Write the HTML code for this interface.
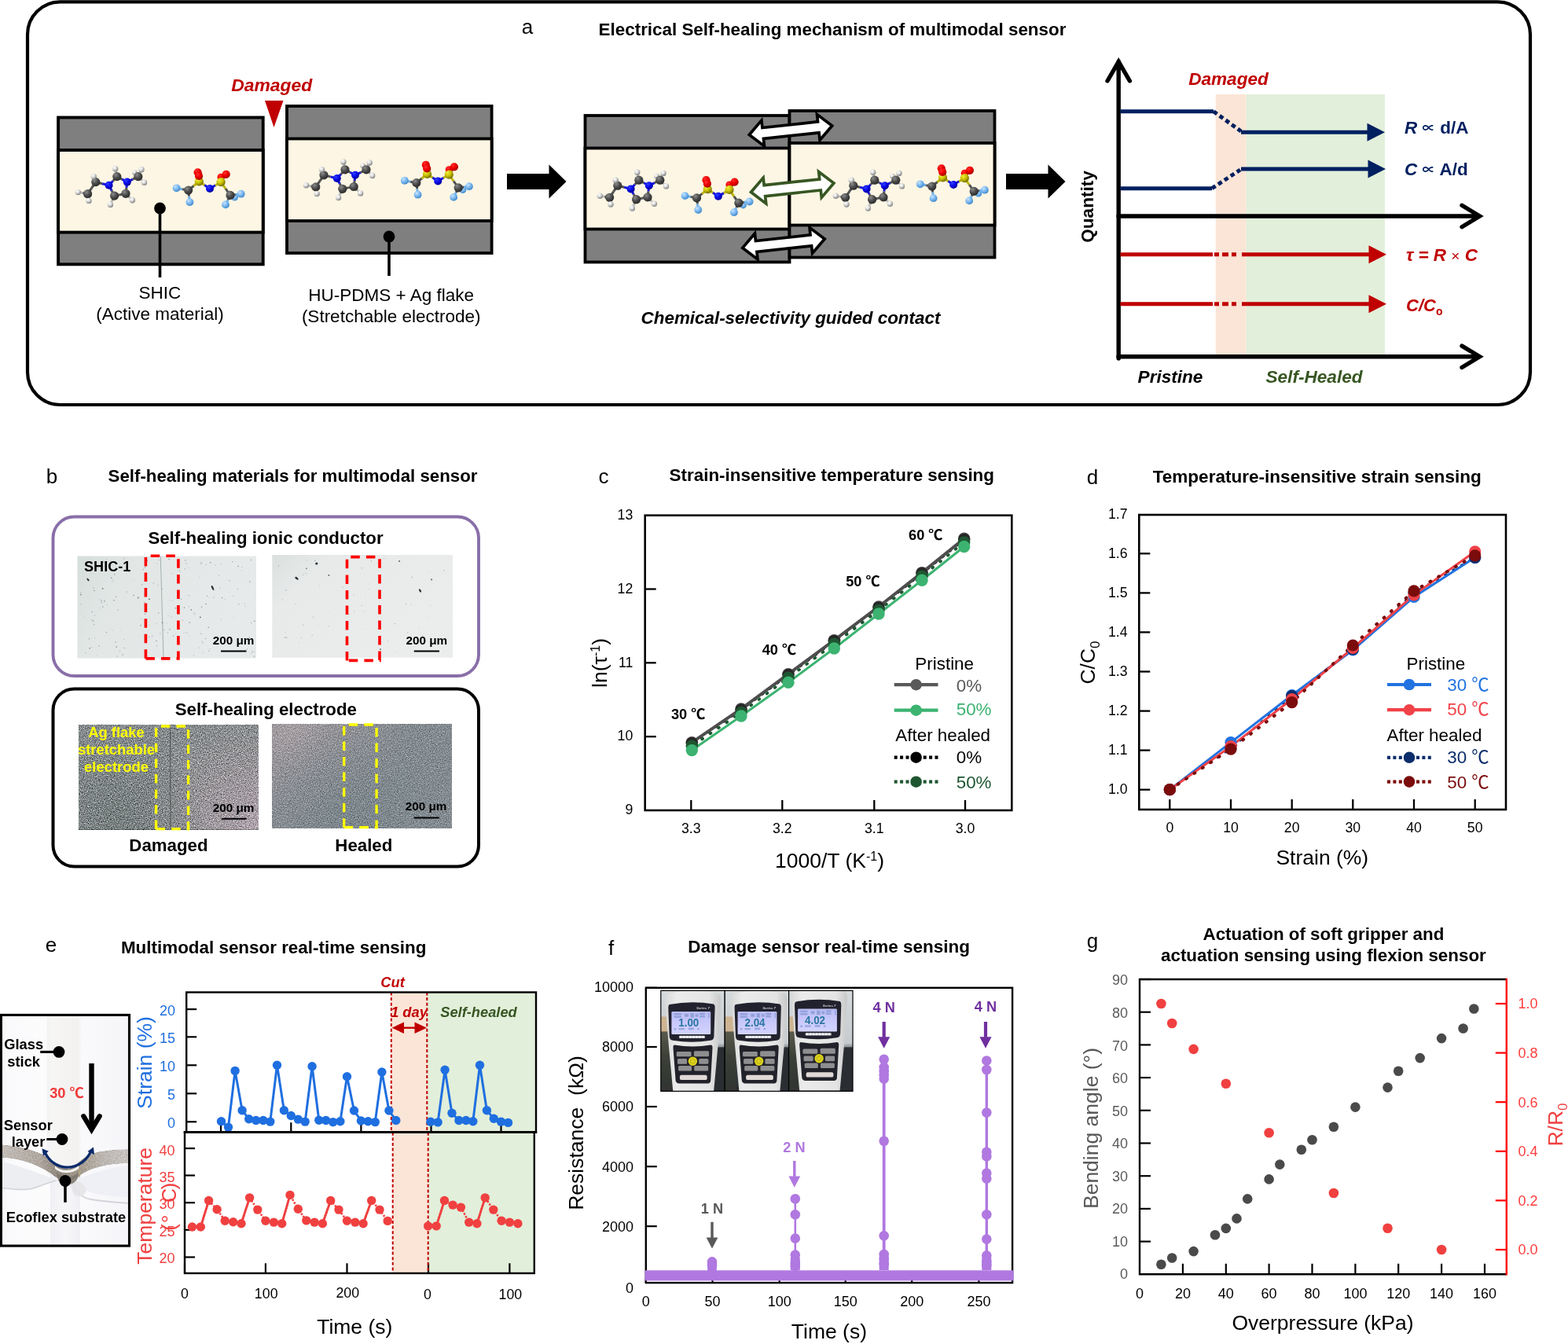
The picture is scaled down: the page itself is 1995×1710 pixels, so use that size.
<!DOCTYPE html>
<html lang="en"><head><meta charset="utf-8"><title>Self-healing multimodal sensor</title>
<style>
html,body{margin:0;padding:0;background:#fff}
svg{display:block}
svg text{font-family:"Liberation Sans", "Noto Sans CJK SC", sans-serif}
</style></head>
<body>
<svg width="1995" height="1710" viewBox="0 0 1995 1710">
<defs>
<radialGradient id="gH" cx="35%" cy="30%" r="75%"><stop offset="0" stop-color="#ffffff"/><stop offset="0.4" stop-color="#e0e0e0"/><stop offset="1" stop-color="#7a7a7a"/></radialGradient>
<radialGradient id="gC" cx="35%" cy="30%" r="75%"><stop offset="0" stop-color="#8c8c8c"/><stop offset="0.5" stop-color="#4d4d4d"/><stop offset="1" stop-color="#262626"/></radialGradient>
<radialGradient id="gN" cx="35%" cy="30%" r="75%"><stop offset="0" stop-color="#3040ff"/><stop offset="0.5" stop-color="#0808e8"/><stop offset="1" stop-color="#000090"/></radialGradient>
<radialGradient id="gO" cx="35%" cy="30%" r="75%"><stop offset="0" stop-color="#ff3030"/><stop offset="0.5" stop-color="#ee0000"/><stop offset="1" stop-color="#a00000"/></radialGradient>
<radialGradient id="gS" cx="35%" cy="30%" r="75%"><stop offset="0" stop-color="#f0f040"/><stop offset="0.5" stop-color="#c8c000"/><stop offset="1" stop-color="#6a6400"/></radialGradient>
<radialGradient id="gF" cx="35%" cy="30%" r="75%"><stop offset="0" stop-color="#c8e4ff"/><stop offset="0.5" stop-color="#7ab8f0"/><stop offset="1" stop-color="#3f86c8"/></radialGradient>

<linearGradient id="bI1" x1="0" y1="0" x2="1" y2="0.3"><stop offset="0" stop-color="#d5dedb"/><stop offset="0.3" stop-color="#e2e7e6"/><stop offset="1" stop-color="#e7eaea"/></linearGradient>
<linearGradient id="bI2" x1="0" y1="0" x2="1" y2="0.6"><stop offset="0" stop-color="#dae0de"/><stop offset="0.25" stop-color="#e8eaea"/><stop offset="1" stop-color="#ebecec"/></linearGradient>
<radialGradient id="bE1a" gradientUnits="userSpaceOnUse" cx="320" cy="1050" r="150"><stop offset="0" stop-color="#b0a4ac" stop-opacity="0.95"/><stop offset="0.5" stop-color="#a39aa0" stop-opacity="0.6"/><stop offset="1" stop-color="#a39aa0" stop-opacity="0"/></radialGradient>
<radialGradient id="bE1b" gradientUnits="userSpaceOnUse" cx="150" cy="1040" r="110"><stop offset="0" stop-color="#747c7c" stop-opacity="0.8"/><stop offset="1" stop-color="#747c7c" stop-opacity="0"/></radialGradient>
<radialGradient id="bE2a" gradientUnits="userSpaceOnUse" cx="370" cy="930" r="150"><stop offset="0" stop-color="#a8a0a4" stop-opacity="0.95"/><stop offset="0.5" stop-color="#9c969b" stop-opacity="0.6"/><stop offset="1" stop-color="#9c969b" stop-opacity="0"/></radialGradient>
<radialGradient id="bE2b" gradientUnits="userSpaceOnUse" cx="440" cy="1030" r="120"><stop offset="0" stop-color="#78848a" stop-opacity="0.8"/><stop offset="1" stop-color="#78848a" stop-opacity="0"/></radialGradient>
<filter id="speck1" x="0" y="0" width="100%" height="100%" color-interpolation-filters="sRGB">
<feTurbulence type="fractalNoise" baseFrequency="0.8" numOctaves="2" seed="4" result="n"/>
<feColorMatrix in="n" type="matrix" values="0.5 0.5 0.5 0 -0.25  0.5 0.5 0.5 0 -0.25  0.5 0.5 0.5 0 -0.25  0 0 0 0 1" result="g"/>
<feComposite in="SourceGraphic" in2="g" operator="arithmetic" k1="0" k2="1" k3="1.1" k4="-0.55"/>
</filter>
<filter id="speck2" x="0" y="0" width="100%" height="100%" color-interpolation-filters="sRGB">
<feTurbulence type="fractalNoise" baseFrequency="0.8" numOctaves="2" seed="9" result="n"/>
<feColorMatrix in="n" type="matrix" values="0.5 0.5 0.5 0 -0.25  0.5 0.5 0.5 0 -0.25  0.5 0.5 0.5 0 -0.25  0 0 0 0 1" result="g"/>
<feComposite in="SourceGraphic" in2="g" operator="arithmetic" k1="0" k2="1" k3="0.7" k4="-0.35"/>
</filter>

<clipPath id="eclip"><rect x="0" y="1290" width="166" height="297"/></clipPath>
<linearGradient id="ebg" x1="0" y1="0" x2="1" y2="0"><stop offset="0" stop-color="#f9f9fb"/><stop offset="0.35" stop-color="#fcfcfd"/><stop offset="0.7" stop-color="#f9f9fb"/><stop offset="1" stop-color="#f5f5f9"/></linearGradient>
<linearGradient id="estick" x1="0" y1="0" x2="1" y2="0"><stop offset="0" stop-color="#f2f2f3"/><stop offset="0.15" stop-color="#f6f6f5"/><stop offset="0.5" stop-color="#f4f3f1"/><stop offset="0.9" stop-color="#f2f1ef"/><stop offset="1" stop-color="#f9f9fb"/></linearGradient>
<linearGradient id="estick2" x1="0" y1="0" x2="1" y2="0"><stop offset="0" stop-color="#f0f0f4"/><stop offset="0.5" stop-color="#f7f7fa"/><stop offset="1" stop-color="#f0f0f4"/></linearGradient>
<linearGradient id="eband" x1="0" y1="0" x2="1" y2="0"><stop offset="0" stop-color="#c4bdb8"/><stop offset="0.3" stop-color="#b0a8a0"/><stop offset="0.45" stop-color="#8f877d"/><stop offset="0.6" stop-color="#a39a8c"/><stop offset="0.8" stop-color="#bdb7b2"/><stop offset="1" stop-color="#c9c5c2"/></linearGradient>
<filter id="egrain" x="0" y="0" width="100%" height="100%" color-interpolation-filters="sRGB">
<feTurbulence type="fractalNoise" baseFrequency="0.7" numOctaves="2" seed="5" result="n"/>
<feColorMatrix in="n" type="matrix" values="0.4 0.4 0.4 0 -0.1  0.4 0.4 0.4 0 -0.1  0.4 0.4 0.4 0 -0.1  0 0 0 0 1" result="g"/>
<feComposite in="SourceGraphic" in2="g" operator="arithmetic" k1="0" k2="1" k3="0.45" k4="-0.225" result="c"/>
<feComposite in="c" in2="SourceGraphic" operator="in"/>
</filter>

<filter id="fblur" x="-5%" y="-5%" width="110%" height="110%"><feGaussianBlur stdDeviation="0.45"/></filter>
<linearGradient id="fdark" x1="0" y1="0" x2="0" y2="1"><stop offset="0" stop-color="#5a5a4c"/><stop offset="0.4" stop-color="#3c4038"/><stop offset="1" stop-color="#2e3230"/></linearGradient>
<linearGradient id="fbg" x1="0" y1="0" x2="0" y2="1"><stop offset="0" stop-color="#d6dadc"/><stop offset="0.52" stop-color="#c6cbcf"/><stop offset="0.6" stop-color="#4a4e52"/><stop offset="1" stop-color="#282b2f"/></linearGradient>
<linearGradient id="fbody" x1="0" y1="0" x2="1" y2="0"><stop offset="0" stop-color="#d8d8d8"/><stop offset="0.2" stop-color="#ebebeb"/><stop offset="0.8" stop-color="#e4e4e4"/><stop offset="1" stop-color="#c8c8c8"/></linearGradient>
<linearGradient id="flcd" x1="0" y1="0" x2="0" y2="1"><stop offset="0" stop-color="#b9bdf2"/><stop offset="0.5" stop-color="#c8c8fb"/><stop offset="1" stop-color="#d4d4ff"/></linearGradient>
</defs>
<rect width="1995" height="1710" fill="#fff"/>
<g id="panel_a">
<rect x="35.0" y="2.3" width="1912.0" height="512.7" fill="#fff" stroke="#000" stroke-width="4.2" rx="41.5"/>
<text x="671.0" y="42.8" font-size="26" text-anchor="middle">a</text>
<text x="1059.0" y="45.0" font-size="22.4" font-weight="bold" text-anchor="middle">Electrical Self-healing mechanism of multimodal sensor</text>
<rect x="74.1" y="149.5" width="260.6" height="186.8" fill="#7f7f7f" stroke="#000" stroke-width="3.9"/><rect x="74.1" y="191.0" width="260.6" height="104.6" fill="#fdf6e4" stroke="#000" stroke-width="3.9"/>
<rect x="365.0" y="135.0" width="260.6" height="187.0" fill="#7f7f7f" stroke="#000" stroke-width="3.8"/><rect x="365.0" y="176.5" width="260.6" height="104.5" fill="#fdf6e4" stroke="#000" stroke-width="3.8"/>
<g><circle cx="171.4" cy="219.6" r="3.33" fill="url(#gH)"/><line x1="99.3" y1="244.6" x2="105.4" y2="245.6" stroke="#bdbdbd" stroke-width="3.0"/><line x1="105.4" y1="245.6" x2="111.6" y2="246.7" stroke="#505050" stroke-width="3.0"/><line x1="111.6" y1="246.7" x2="112.3" y2="251.1" stroke="#505050" stroke-width="3.0"/><line x1="112.3" y1="251.1" x2="113.0" y2="255.4" stroke="#bdbdbd" stroke-width="3.0"/><line x1="111.6" y1="246.7" x2="116.7" y2="239.1" stroke="#505050" stroke-width="3.0"/><line x1="116.7" y1="239.1" x2="121.8" y2="231.6" stroke="#505050" stroke-width="3.0"/><line x1="121.8" y1="231.6" x2="120.5" y2="228.1" stroke="#505050" stroke-width="3.0"/><line x1="120.5" y1="228.1" x2="119.3" y2="224.6" stroke="#bdbdbd" stroke-width="3.0"/><line x1="121.8" y1="231.6" x2="130.2" y2="233.7" stroke="#505050" stroke-width="3.0"/><line x1="130.2" y1="233.7" x2="138.6" y2="235.8" stroke="#1414d8" stroke-width="3.0"/><line x1="138.6" y1="235.8" x2="143.7" y2="230.2" stroke="#1414d8" stroke-width="3.0"/><line x1="143.7" y1="230.2" x2="148.8" y2="224.6" stroke="#505050" stroke-width="3.0"/><line x1="148.8" y1="224.6" x2="147.7" y2="219.6" stroke="#505050" stroke-width="3.0"/><line x1="147.7" y1="219.6" x2="146.7" y2="214.7" stroke="#bdbdbd" stroke-width="3.0"/><line x1="148.8" y1="224.6" x2="155.3" y2="228.1" stroke="#505050" stroke-width="3.0"/><line x1="155.3" y1="228.1" x2="161.8" y2="231.6" stroke="#1414d8" stroke-width="3.0"/><line x1="161.8" y1="231.6" x2="168.8" y2="228.1" stroke="#1414d8" stroke-width="3.0"/><line x1="168.8" y1="228.1" x2="175.8" y2="224.6" stroke="#505050" stroke-width="3.0"/><line x1="175.8" y1="224.6" x2="177.9" y2="220.2" stroke="#505050" stroke-width="3.0"/><line x1="177.9" y1="220.2" x2="180.0" y2="215.8" stroke="#bdbdbd" stroke-width="3.0"/><line x1="175.8" y1="224.6" x2="179.6" y2="228.4" stroke="#505050" stroke-width="3.0"/><line x1="179.6" y1="228.4" x2="183.5" y2="232.3" stroke="#bdbdbd" stroke-width="3.0"/><line x1="161.8" y1="231.6" x2="160.9" y2="238.9" stroke="#1414d8" stroke-width="3.0"/><line x1="160.9" y1="238.9" x2="160.0" y2="246.3" stroke="#505050" stroke-width="3.0"/><line x1="160.0" y1="246.3" x2="164.2" y2="250.5" stroke="#505050" stroke-width="3.0"/><line x1="164.2" y1="250.5" x2="168.4" y2="254.7" stroke="#bdbdbd" stroke-width="3.0"/><line x1="160.0" y1="246.3" x2="152.8" y2="247.7" stroke="#505050" stroke-width="3.0"/><line x1="152.8" y1="247.7" x2="145.6" y2="249.1" stroke="#505050" stroke-width="3.0"/><line x1="145.6" y1="249.1" x2="143.0" y2="254.7" stroke="#505050" stroke-width="3.0"/><line x1="143.0" y1="254.7" x2="140.4" y2="260.4" stroke="#bdbdbd" stroke-width="3.0"/><line x1="145.6" y1="249.1" x2="142.1" y2="242.5" stroke="#505050" stroke-width="3.0"/><line x1="142.1" y1="242.5" x2="138.6" y2="235.8" stroke="#1414d8" stroke-width="3.0"/><circle cx="99.3" cy="244.6" r="3.7" fill="url(#gH)"/><circle cx="111.6" cy="246.7" r="5.6" fill="url(#gC)"/><circle cx="113.0" cy="255.4" r="3.7" fill="url(#gH)"/><circle cx="121.8" cy="231.6" r="5.6" fill="url(#gC)"/><circle cx="119.3" cy="224.6" r="3.7" fill="url(#gH)"/><circle cx="138.6" cy="235.8" r="5.0" fill="url(#gN)"/><circle cx="148.8" cy="224.6" r="5.6" fill="url(#gC)"/><circle cx="146.7" cy="214.7" r="3.7" fill="url(#gH)"/><circle cx="161.8" cy="231.6" r="5.0" fill="url(#gN)"/><circle cx="175.8" cy="224.6" r="5.6" fill="url(#gC)"/><circle cx="180.0" cy="215.8" r="3.7" fill="url(#gH)"/><circle cx="183.5" cy="232.3" r="3.7" fill="url(#gH)"/><circle cx="160.0" cy="246.3" r="5.6" fill="url(#gC)"/><circle cx="168.4" cy="254.7" r="3.7" fill="url(#gH)"/><circle cx="145.6" cy="249.1" r="5.6" fill="url(#gC)"/><circle cx="140.4" cy="260.4" r="3.7" fill="url(#gH)"/></g>
<g><circle cx="281.1" cy="225.3" r="4.59" fill="url(#gO)"/><circle cx="298.6" cy="251.2" r="4.41" fill="url(#gF)"/><line x1="224.6" y1="239.3" x2="232.1" y2="240.7" stroke="#6fb0e6" stroke-width="3.0"/><line x1="232.1" y1="240.7" x2="239.6" y2="242.1" stroke="#505050" stroke-width="3.0"/><line x1="239.6" y1="242.1" x2="240.5" y2="249.6" stroke="#505050" stroke-width="3.0"/><line x1="240.5" y1="249.6" x2="241.4" y2="257.2" stroke="#6fb0e6" stroke-width="3.0"/><line x1="239.6" y1="242.1" x2="246.5" y2="236.5" stroke="#505050" stroke-width="3.0"/><line x1="246.5" y1="236.5" x2="253.3" y2="230.9" stroke="#bdb400" stroke-width="3.0"/><line x1="253.3" y1="230.9" x2="252.5" y2="225.1" stroke="#bdb400" stroke-width="3.0"/><line x1="252.5" y1="225.1" x2="251.6" y2="219.3" stroke="#d80000" stroke-width="3.0"/><line x1="253.3" y1="230.9" x2="260.2" y2="235.4" stroke="#bdb400" stroke-width="3.0"/><line x1="260.2" y1="235.4" x2="267.0" y2="240.0" stroke="#1414d8" stroke-width="3.0"/><line x1="267.0" y1="240.0" x2="274.0" y2="235.8" stroke="#1414d8" stroke-width="3.0"/><line x1="274.0" y1="235.8" x2="281.1" y2="231.6" stroke="#bdb400" stroke-width="3.0"/><line x1="281.1" y1="231.6" x2="284.4" y2="226.7" stroke="#bdb400" stroke-width="3.0"/><line x1="284.4" y1="226.7" x2="287.7" y2="221.8" stroke="#d80000" stroke-width="3.0"/><line x1="281.1" y1="231.6" x2="287.0" y2="240.0" stroke="#bdb400" stroke-width="3.0"/><line x1="287.0" y1="240.0" x2="293.0" y2="248.4" stroke="#505050" stroke-width="3.0"/><line x1="293.0" y1="248.4" x2="299.8" y2="247.5" stroke="#505050" stroke-width="3.0"/><line x1="299.8" y1="247.5" x2="306.7" y2="246.7" stroke="#6fb0e6" stroke-width="3.0"/><line x1="293.0" y1="248.4" x2="290.0" y2="254.4" stroke="#505050" stroke-width="3.0"/><line x1="290.0" y1="254.4" x2="287.0" y2="260.4" stroke="#6fb0e6" stroke-width="3.0"/><circle cx="224.6" cy="239.3" r="4.9" fill="url(#gF)"/><circle cx="239.6" cy="242.1" r="5.6" fill="url(#gC)"/><circle cx="241.4" cy="257.2" r="4.9" fill="url(#gF)"/><circle cx="253.3" cy="230.9" r="5.6" fill="url(#gS)"/><circle cx="251.6" cy="219.3" r="5.1" fill="url(#gO)"/><circle cx="253.0" cy="223.9" r="5.1" fill="url(#gO)"/><circle cx="267.0" cy="240.0" r="5.0" fill="url(#gN)"/><circle cx="281.1" cy="231.6" r="5.6" fill="url(#gS)"/><circle cx="287.7" cy="221.8" r="5.1" fill="url(#gO)"/><circle cx="293.0" cy="248.4" r="5.6" fill="url(#gC)"/><circle cx="306.7" cy="246.7" r="4.9" fill="url(#gF)"/><circle cx="287.0" cy="260.4" r="4.9" fill="url(#gF)"/></g>
<g><circle cx="461.6" cy="210.8" r="3.33" fill="url(#gH)"/><line x1="389.5" y1="235.8" x2="395.6" y2="236.8" stroke="#bdbdbd" stroke-width="3.0"/><line x1="395.6" y1="236.8" x2="401.8" y2="237.9" stroke="#505050" stroke-width="3.0"/><line x1="401.8" y1="237.9" x2="402.5" y2="242.3" stroke="#505050" stroke-width="3.0"/><line x1="402.5" y1="242.3" x2="403.2" y2="246.6" stroke="#bdbdbd" stroke-width="3.0"/><line x1="401.8" y1="237.9" x2="406.9" y2="230.3" stroke="#505050" stroke-width="3.0"/><line x1="406.9" y1="230.3" x2="412.0" y2="222.8" stroke="#505050" stroke-width="3.0"/><line x1="412.0" y1="222.8" x2="410.7" y2="219.3" stroke="#505050" stroke-width="3.0"/><line x1="410.7" y1="219.3" x2="409.5" y2="215.8" stroke="#bdbdbd" stroke-width="3.0"/><line x1="412.0" y1="222.8" x2="420.4" y2="224.9" stroke="#505050" stroke-width="3.0"/><line x1="420.4" y1="224.9" x2="428.8" y2="227.0" stroke="#1414d8" stroke-width="3.0"/><line x1="428.8" y1="227.0" x2="433.9" y2="221.4" stroke="#1414d8" stroke-width="3.0"/><line x1="433.9" y1="221.4" x2="439.0" y2="215.8" stroke="#505050" stroke-width="3.0"/><line x1="439.0" y1="215.8" x2="437.9" y2="210.8" stroke="#505050" stroke-width="3.0"/><line x1="437.9" y1="210.8" x2="436.9" y2="205.9" stroke="#bdbdbd" stroke-width="3.0"/><line x1="439.0" y1="215.8" x2="445.5" y2="219.3" stroke="#505050" stroke-width="3.0"/><line x1="445.5" y1="219.3" x2="452.0" y2="222.8" stroke="#1414d8" stroke-width="3.0"/><line x1="452.0" y1="222.8" x2="459.0" y2="219.3" stroke="#1414d8" stroke-width="3.0"/><line x1="459.0" y1="219.3" x2="466.0" y2="215.8" stroke="#505050" stroke-width="3.0"/><line x1="466.0" y1="215.8" x2="468.1" y2="211.4" stroke="#505050" stroke-width="3.0"/><line x1="468.1" y1="211.4" x2="470.2" y2="207.0" stroke="#bdbdbd" stroke-width="3.0"/><line x1="466.0" y1="215.8" x2="469.8" y2="219.6" stroke="#505050" stroke-width="3.0"/><line x1="469.8" y1="219.6" x2="473.7" y2="223.5" stroke="#bdbdbd" stroke-width="3.0"/><line x1="452.0" y1="222.8" x2="451.1" y2="230.1" stroke="#1414d8" stroke-width="3.0"/><line x1="451.1" y1="230.1" x2="450.2" y2="237.5" stroke="#505050" stroke-width="3.0"/><line x1="450.2" y1="237.5" x2="454.4" y2="241.7" stroke="#505050" stroke-width="3.0"/><line x1="454.4" y1="241.7" x2="458.6" y2="245.9" stroke="#bdbdbd" stroke-width="3.0"/><line x1="450.2" y1="237.5" x2="443.0" y2="238.9" stroke="#505050" stroke-width="3.0"/><line x1="443.0" y1="238.9" x2="435.8" y2="240.3" stroke="#505050" stroke-width="3.0"/><line x1="435.8" y1="240.3" x2="433.2" y2="245.9" stroke="#505050" stroke-width="3.0"/><line x1="433.2" y1="245.9" x2="430.6" y2="251.6" stroke="#bdbdbd" stroke-width="3.0"/><line x1="435.8" y1="240.3" x2="432.3" y2="233.7" stroke="#505050" stroke-width="3.0"/><line x1="432.3" y1="233.7" x2="428.8" y2="227.0" stroke="#1414d8" stroke-width="3.0"/><circle cx="389.5" cy="235.8" r="3.7" fill="url(#gH)"/><circle cx="401.8" cy="237.9" r="5.6" fill="url(#gC)"/><circle cx="403.2" cy="246.6" r="3.7" fill="url(#gH)"/><circle cx="412.0" cy="222.8" r="5.6" fill="url(#gC)"/><circle cx="409.5" cy="215.8" r="3.7" fill="url(#gH)"/><circle cx="428.8" cy="227.0" r="5.0" fill="url(#gN)"/><circle cx="439.0" cy="215.8" r="5.6" fill="url(#gC)"/><circle cx="436.9" cy="205.9" r="3.7" fill="url(#gH)"/><circle cx="452.0" cy="222.8" r="5.0" fill="url(#gN)"/><circle cx="466.0" cy="215.8" r="5.6" fill="url(#gC)"/><circle cx="470.2" cy="207.0" r="3.7" fill="url(#gH)"/><circle cx="473.7" cy="223.5" r="3.7" fill="url(#gH)"/><circle cx="450.2" cy="237.5" r="5.6" fill="url(#gC)"/><circle cx="458.6" cy="245.9" r="3.7" fill="url(#gH)"/><circle cx="435.8" cy="240.3" r="5.6" fill="url(#gC)"/><circle cx="430.6" cy="251.6" r="3.7" fill="url(#gH)"/></g>
<g><circle cx="571.3" cy="215.8" r="4.59" fill="url(#gO)"/><circle cx="588.8" cy="241.7" r="4.41" fill="url(#gF)"/><line x1="514.8" y1="229.8" x2="522.3" y2="231.2" stroke="#6fb0e6" stroke-width="3.0"/><line x1="522.3" y1="231.2" x2="529.8" y2="232.6" stroke="#505050" stroke-width="3.0"/><line x1="529.8" y1="232.6" x2="530.7" y2="240.1" stroke="#505050" stroke-width="3.0"/><line x1="530.7" y1="240.1" x2="531.6" y2="247.7" stroke="#6fb0e6" stroke-width="3.0"/><line x1="529.8" y1="232.6" x2="536.7" y2="227.0" stroke="#505050" stroke-width="3.0"/><line x1="536.7" y1="227.0" x2="543.5" y2="221.4" stroke="#bdb400" stroke-width="3.0"/><line x1="543.5" y1="221.4" x2="542.7" y2="215.6" stroke="#bdb400" stroke-width="3.0"/><line x1="542.7" y1="215.6" x2="541.8" y2="209.8" stroke="#d80000" stroke-width="3.0"/><line x1="543.5" y1="221.4" x2="550.4" y2="225.9" stroke="#bdb400" stroke-width="3.0"/><line x1="550.4" y1="225.9" x2="557.2" y2="230.5" stroke="#1414d8" stroke-width="3.0"/><line x1="557.2" y1="230.5" x2="564.2" y2="226.3" stroke="#1414d8" stroke-width="3.0"/><line x1="564.2" y1="226.3" x2="571.3" y2="222.1" stroke="#bdb400" stroke-width="3.0"/><line x1="571.3" y1="222.1" x2="574.6" y2="217.2" stroke="#bdb400" stroke-width="3.0"/><line x1="574.6" y1="217.2" x2="577.9" y2="212.3" stroke="#d80000" stroke-width="3.0"/><line x1="571.3" y1="222.1" x2="577.2" y2="230.5" stroke="#bdb400" stroke-width="3.0"/><line x1="577.2" y1="230.5" x2="583.2" y2="238.9" stroke="#505050" stroke-width="3.0"/><line x1="583.2" y1="238.9" x2="590.0" y2="238.0" stroke="#505050" stroke-width="3.0"/><line x1="590.0" y1="238.0" x2="596.9" y2="237.2" stroke="#6fb0e6" stroke-width="3.0"/><line x1="583.2" y1="238.9" x2="580.2" y2="244.9" stroke="#505050" stroke-width="3.0"/><line x1="580.2" y1="244.9" x2="577.2" y2="250.9" stroke="#6fb0e6" stroke-width="3.0"/><circle cx="514.8" cy="229.8" r="4.9" fill="url(#gF)"/><circle cx="529.8" cy="232.6" r="5.6" fill="url(#gC)"/><circle cx="531.6" cy="247.7" r="4.9" fill="url(#gF)"/><circle cx="543.5" cy="221.4" r="5.6" fill="url(#gS)"/><circle cx="541.8" cy="209.8" r="5.1" fill="url(#gO)"/><circle cx="543.2" cy="214.4" r="5.1" fill="url(#gO)"/><circle cx="557.2" cy="230.5" r="5.0" fill="url(#gN)"/><circle cx="571.3" cy="222.1" r="5.6" fill="url(#gS)"/><circle cx="577.9" cy="212.3" r="5.1" fill="url(#gO)"/><circle cx="583.2" cy="238.9" r="5.6" fill="url(#gC)"/><circle cx="596.9" cy="237.2" r="4.9" fill="url(#gF)"/><circle cx="577.2" cy="250.9" r="4.9" fill="url(#gF)"/></g>
<polygon points="337.0,128.0 360.5,128.0 348.5,162.0" fill="#c00000"/>
<text x="345.7" y="116.0" font-size="22.9" font-weight="bold" font-style="italic" fill="#c00000" text-anchor="middle">Damaged</text>
<line x1="203.5" y1="265.0" x2="203.5" y2="353.0" stroke="#000" stroke-width="3.6"/>
<circle cx="203.5" cy="265.0" r="7.4" fill="#000"/>
<line x1="495.0" y1="301.0" x2="495.0" y2="351.0" stroke="#000" stroke-width="3.6"/>
<circle cx="495.0" cy="301.0" r="7.4" fill="#000"/>
<text x="203.5" y="379.8" font-size="22.5" text-anchor="middle">SHIC</text>
<text x="203.5" y="407.3" font-size="22.5" text-anchor="middle">(Active material)</text>
<text x="497.7" y="382.5" font-size="22.5" text-anchor="middle">HU-PDMS + Ag flake</text>
<text x="497.7" y="409.7" font-size="22.5" text-anchor="middle">(Stretchable electrode)</text>
<polygon points="645.0,221.0 698.5,221.0 698.5,209.5 720.5,231.0 698.5,252.5 698.5,241.0 645.0,241.0" fill="#000"/>
<rect x="744.5" y="147.0" width="260.0" height="186.5" fill="#7f7f7f" stroke="#000" stroke-width="3.8"/><rect x="744.5" y="188.5" width="260.0" height="103.0" fill="#fdf6e4" stroke="#000" stroke-width="3.8"/>
<rect x="1004.5" y="141.0" width="261.0" height="186.5" fill="#7f7f7f" stroke="#000" stroke-width="3.8"/><rect x="1004.5" y="182.0" width="261.0" height="104.5" fill="#fdf6e4" stroke="#000" stroke-width="3.8"/>
<g><circle cx="835.4" cy="224.2" r="3.33" fill="url(#gH)"/><line x1="763.3" y1="249.2" x2="769.4" y2="250.2" stroke="#bdbdbd" stroke-width="3.0"/><line x1="769.4" y1="250.2" x2="775.6" y2="251.3" stroke="#505050" stroke-width="3.0"/><line x1="775.6" y1="251.3" x2="776.3" y2="255.7" stroke="#505050" stroke-width="3.0"/><line x1="776.3" y1="255.7" x2="777.0" y2="260.0" stroke="#bdbdbd" stroke-width="3.0"/><line x1="775.6" y1="251.3" x2="780.7" y2="243.7" stroke="#505050" stroke-width="3.0"/><line x1="780.7" y1="243.7" x2="785.8" y2="236.2" stroke="#505050" stroke-width="3.0"/><line x1="785.8" y1="236.2" x2="784.5" y2="232.7" stroke="#505050" stroke-width="3.0"/><line x1="784.5" y1="232.7" x2="783.3" y2="229.2" stroke="#bdbdbd" stroke-width="3.0"/><line x1="785.8" y1="236.2" x2="794.2" y2="238.3" stroke="#505050" stroke-width="3.0"/><line x1="794.2" y1="238.3" x2="802.6" y2="240.4" stroke="#1414d8" stroke-width="3.0"/><line x1="802.6" y1="240.4" x2="807.7" y2="234.8" stroke="#1414d8" stroke-width="3.0"/><line x1="807.7" y1="234.8" x2="812.8" y2="229.2" stroke="#505050" stroke-width="3.0"/><line x1="812.8" y1="229.2" x2="811.7" y2="224.2" stroke="#505050" stroke-width="3.0"/><line x1="811.7" y1="224.2" x2="810.7" y2="219.3" stroke="#bdbdbd" stroke-width="3.0"/><line x1="812.8" y1="229.2" x2="819.3" y2="232.7" stroke="#505050" stroke-width="3.0"/><line x1="819.3" y1="232.7" x2="825.8" y2="236.2" stroke="#1414d8" stroke-width="3.0"/><line x1="825.8" y1="236.2" x2="832.8" y2="232.7" stroke="#1414d8" stroke-width="3.0"/><line x1="832.8" y1="232.7" x2="839.8" y2="229.2" stroke="#505050" stroke-width="3.0"/><line x1="839.8" y1="229.2" x2="841.9" y2="224.8" stroke="#505050" stroke-width="3.0"/><line x1="841.9" y1="224.8" x2="844.0" y2="220.4" stroke="#bdbdbd" stroke-width="3.0"/><line x1="839.8" y1="229.2" x2="843.6" y2="233.0" stroke="#505050" stroke-width="3.0"/><line x1="843.6" y1="233.0" x2="847.5" y2="236.9" stroke="#bdbdbd" stroke-width="3.0"/><line x1="825.8" y1="236.2" x2="824.9" y2="243.5" stroke="#1414d8" stroke-width="3.0"/><line x1="824.9" y1="243.5" x2="824.0" y2="250.9" stroke="#505050" stroke-width="3.0"/><line x1="824.0" y1="250.9" x2="828.2" y2="255.1" stroke="#505050" stroke-width="3.0"/><line x1="828.2" y1="255.1" x2="832.4" y2="259.3" stroke="#bdbdbd" stroke-width="3.0"/><line x1="824.0" y1="250.9" x2="816.8" y2="252.3" stroke="#505050" stroke-width="3.0"/><line x1="816.8" y1="252.3" x2="809.6" y2="253.7" stroke="#505050" stroke-width="3.0"/><line x1="809.6" y1="253.7" x2="807.0" y2="259.3" stroke="#505050" stroke-width="3.0"/><line x1="807.0" y1="259.3" x2="804.4" y2="265.0" stroke="#bdbdbd" stroke-width="3.0"/><line x1="809.6" y1="253.7" x2="806.1" y2="247.1" stroke="#505050" stroke-width="3.0"/><line x1="806.1" y1="247.1" x2="802.6" y2="240.4" stroke="#1414d8" stroke-width="3.0"/><circle cx="763.3" cy="249.2" r="3.7" fill="url(#gH)"/><circle cx="775.6" cy="251.3" r="5.6" fill="url(#gC)"/><circle cx="777.0" cy="260.0" r="3.7" fill="url(#gH)"/><circle cx="785.8" cy="236.2" r="5.6" fill="url(#gC)"/><circle cx="783.3" cy="229.2" r="3.7" fill="url(#gH)"/><circle cx="802.6" cy="240.4" r="5.0" fill="url(#gN)"/><circle cx="812.8" cy="229.2" r="5.6" fill="url(#gC)"/><circle cx="810.7" cy="219.3" r="3.7" fill="url(#gH)"/><circle cx="825.8" cy="236.2" r="5.0" fill="url(#gN)"/><circle cx="839.8" cy="229.2" r="5.6" fill="url(#gC)"/><circle cx="844.0" cy="220.4" r="3.7" fill="url(#gH)"/><circle cx="847.5" cy="236.9" r="3.7" fill="url(#gH)"/><circle cx="824.0" cy="250.9" r="5.6" fill="url(#gC)"/><circle cx="832.4" cy="259.3" r="3.7" fill="url(#gH)"/><circle cx="809.6" cy="253.7" r="5.6" fill="url(#gC)"/><circle cx="804.4" cy="265.0" r="3.7" fill="url(#gH)"/></g>
<g><circle cx="928.0" cy="235.1" r="4.59" fill="url(#gO)"/><circle cx="945.5" cy="261.0" r="4.41" fill="url(#gF)"/><line x1="871.5" y1="249.1" x2="879.0" y2="250.5" stroke="#6fb0e6" stroke-width="3.0"/><line x1="879.0" y1="250.5" x2="886.5" y2="251.9" stroke="#505050" stroke-width="3.0"/><line x1="886.5" y1="251.9" x2="887.4" y2="259.4" stroke="#505050" stroke-width="3.0"/><line x1="887.4" y1="259.4" x2="888.3" y2="267.0" stroke="#6fb0e6" stroke-width="3.0"/><line x1="886.5" y1="251.9" x2="893.4" y2="246.3" stroke="#505050" stroke-width="3.0"/><line x1="893.4" y1="246.3" x2="900.2" y2="240.7" stroke="#bdb400" stroke-width="3.0"/><line x1="900.2" y1="240.7" x2="899.4" y2="234.9" stroke="#bdb400" stroke-width="3.0"/><line x1="899.4" y1="234.9" x2="898.5" y2="229.1" stroke="#d80000" stroke-width="3.0"/><line x1="900.2" y1="240.7" x2="907.1" y2="245.2" stroke="#bdb400" stroke-width="3.0"/><line x1="907.1" y1="245.2" x2="913.9" y2="249.8" stroke="#1414d8" stroke-width="3.0"/><line x1="913.9" y1="249.8" x2="920.9" y2="245.6" stroke="#1414d8" stroke-width="3.0"/><line x1="920.9" y1="245.6" x2="928.0" y2="241.4" stroke="#bdb400" stroke-width="3.0"/><line x1="928.0" y1="241.4" x2="931.3" y2="236.5" stroke="#bdb400" stroke-width="3.0"/><line x1="931.3" y1="236.5" x2="934.6" y2="231.6" stroke="#d80000" stroke-width="3.0"/><line x1="928.0" y1="241.4" x2="933.9" y2="249.8" stroke="#bdb400" stroke-width="3.0"/><line x1="933.9" y1="249.8" x2="939.9" y2="258.2" stroke="#505050" stroke-width="3.0"/><line x1="939.9" y1="258.2" x2="946.7" y2="257.3" stroke="#505050" stroke-width="3.0"/><line x1="946.7" y1="257.3" x2="953.6" y2="256.5" stroke="#6fb0e6" stroke-width="3.0"/><line x1="939.9" y1="258.2" x2="936.9" y2="264.2" stroke="#505050" stroke-width="3.0"/><line x1="936.9" y1="264.2" x2="933.9" y2="270.2" stroke="#6fb0e6" stroke-width="3.0"/><circle cx="871.5" cy="249.1" r="4.9" fill="url(#gF)"/><circle cx="886.5" cy="251.9" r="5.6" fill="url(#gC)"/><circle cx="888.3" cy="267.0" r="4.9" fill="url(#gF)"/><circle cx="900.2" cy="240.7" r="5.6" fill="url(#gS)"/><circle cx="898.5" cy="229.1" r="5.1" fill="url(#gO)"/><circle cx="899.9" cy="233.7" r="5.1" fill="url(#gO)"/><circle cx="913.9" cy="249.8" r="5.0" fill="url(#gN)"/><circle cx="928.0" cy="241.4" r="5.6" fill="url(#gS)"/><circle cx="934.6" cy="231.6" r="5.1" fill="url(#gO)"/><circle cx="939.9" cy="258.2" r="5.6" fill="url(#gC)"/><circle cx="953.6" cy="256.5" r="4.9" fill="url(#gF)"/><circle cx="933.9" cy="270.2" r="4.9" fill="url(#gF)"/></g>
<g><circle cx="1135.4" cy="224.2" r="3.33" fill="url(#gH)"/><line x1="1063.3" y1="249.2" x2="1069.4" y2="250.2" stroke="#bdbdbd" stroke-width="3.0"/><line x1="1069.4" y1="250.2" x2="1075.6" y2="251.3" stroke="#505050" stroke-width="3.0"/><line x1="1075.6" y1="251.3" x2="1076.3" y2="255.7" stroke="#505050" stroke-width="3.0"/><line x1="1076.3" y1="255.7" x2="1077.0" y2="260.0" stroke="#bdbdbd" stroke-width="3.0"/><line x1="1075.6" y1="251.3" x2="1080.7" y2="243.7" stroke="#505050" stroke-width="3.0"/><line x1="1080.7" y1="243.7" x2="1085.8" y2="236.2" stroke="#505050" stroke-width="3.0"/><line x1="1085.8" y1="236.2" x2="1084.5" y2="232.7" stroke="#505050" stroke-width="3.0"/><line x1="1084.5" y1="232.7" x2="1083.3" y2="229.2" stroke="#bdbdbd" stroke-width="3.0"/><line x1="1085.8" y1="236.2" x2="1094.2" y2="238.3" stroke="#505050" stroke-width="3.0"/><line x1="1094.2" y1="238.3" x2="1102.6" y2="240.4" stroke="#1414d8" stroke-width="3.0"/><line x1="1102.6" y1="240.4" x2="1107.7" y2="234.8" stroke="#1414d8" stroke-width="3.0"/><line x1="1107.7" y1="234.8" x2="1112.8" y2="229.2" stroke="#505050" stroke-width="3.0"/><line x1="1112.8" y1="229.2" x2="1111.7" y2="224.2" stroke="#505050" stroke-width="3.0"/><line x1="1111.7" y1="224.2" x2="1110.7" y2="219.3" stroke="#bdbdbd" stroke-width="3.0"/><line x1="1112.8" y1="229.2" x2="1119.3" y2="232.7" stroke="#505050" stroke-width="3.0"/><line x1="1119.3" y1="232.7" x2="1125.8" y2="236.2" stroke="#1414d8" stroke-width="3.0"/><line x1="1125.8" y1="236.2" x2="1132.8" y2="232.7" stroke="#1414d8" stroke-width="3.0"/><line x1="1132.8" y1="232.7" x2="1139.8" y2="229.2" stroke="#505050" stroke-width="3.0"/><line x1="1139.8" y1="229.2" x2="1141.9" y2="224.8" stroke="#505050" stroke-width="3.0"/><line x1="1141.9" y1="224.8" x2="1144.0" y2="220.4" stroke="#bdbdbd" stroke-width="3.0"/><line x1="1139.8" y1="229.2" x2="1143.6" y2="233.0" stroke="#505050" stroke-width="3.0"/><line x1="1143.6" y1="233.0" x2="1147.5" y2="236.9" stroke="#bdbdbd" stroke-width="3.0"/><line x1="1125.8" y1="236.2" x2="1124.9" y2="243.5" stroke="#1414d8" stroke-width="3.0"/><line x1="1124.9" y1="243.5" x2="1124.0" y2="250.9" stroke="#505050" stroke-width="3.0"/><line x1="1124.0" y1="250.9" x2="1128.2" y2="255.1" stroke="#505050" stroke-width="3.0"/><line x1="1128.2" y1="255.1" x2="1132.4" y2="259.3" stroke="#bdbdbd" stroke-width="3.0"/><line x1="1124.0" y1="250.9" x2="1116.8" y2="252.3" stroke="#505050" stroke-width="3.0"/><line x1="1116.8" y1="252.3" x2="1109.6" y2="253.7" stroke="#505050" stroke-width="3.0"/><line x1="1109.6" y1="253.7" x2="1107.0" y2="259.3" stroke="#505050" stroke-width="3.0"/><line x1="1107.0" y1="259.3" x2="1104.4" y2="265.0" stroke="#bdbdbd" stroke-width="3.0"/><line x1="1109.6" y1="253.7" x2="1106.1" y2="247.1" stroke="#505050" stroke-width="3.0"/><line x1="1106.1" y1="247.1" x2="1102.6" y2="240.4" stroke="#1414d8" stroke-width="3.0"/><circle cx="1063.3" cy="249.2" r="3.7" fill="url(#gH)"/><circle cx="1075.6" cy="251.3" r="5.6" fill="url(#gC)"/><circle cx="1077.0" cy="260.0" r="3.7" fill="url(#gH)"/><circle cx="1085.8" cy="236.2" r="5.6" fill="url(#gC)"/><circle cx="1083.3" cy="229.2" r="3.7" fill="url(#gH)"/><circle cx="1102.6" cy="240.4" r="5.0" fill="url(#gN)"/><circle cx="1112.8" cy="229.2" r="5.6" fill="url(#gC)"/><circle cx="1110.7" cy="219.3" r="3.7" fill="url(#gH)"/><circle cx="1125.8" cy="236.2" r="5.0" fill="url(#gN)"/><circle cx="1139.8" cy="229.2" r="5.6" fill="url(#gC)"/><circle cx="1144.0" cy="220.4" r="3.7" fill="url(#gH)"/><circle cx="1147.5" cy="236.9" r="3.7" fill="url(#gH)"/><circle cx="1124.0" cy="250.9" r="5.6" fill="url(#gC)"/><circle cx="1132.4" cy="259.3" r="3.7" fill="url(#gH)"/><circle cx="1109.6" cy="253.7" r="5.6" fill="url(#gC)"/><circle cx="1104.4" cy="265.0" r="3.7" fill="url(#gH)"/></g>
<g><circle cx="1227.3" cy="220.3" r="4.59" fill="url(#gO)"/><circle cx="1244.8" cy="246.2" r="4.41" fill="url(#gF)"/><line x1="1170.8" y1="234.3" x2="1178.3" y2="235.7" stroke="#6fb0e6" stroke-width="3.0"/><line x1="1178.3" y1="235.7" x2="1185.8" y2="237.1" stroke="#505050" stroke-width="3.0"/><line x1="1185.8" y1="237.1" x2="1186.7" y2="244.6" stroke="#505050" stroke-width="3.0"/><line x1="1186.7" y1="244.6" x2="1187.6" y2="252.2" stroke="#6fb0e6" stroke-width="3.0"/><line x1="1185.8" y1="237.1" x2="1192.7" y2="231.5" stroke="#505050" stroke-width="3.0"/><line x1="1192.7" y1="231.5" x2="1199.5" y2="225.9" stroke="#bdb400" stroke-width="3.0"/><line x1="1199.5" y1="225.9" x2="1198.7" y2="220.1" stroke="#bdb400" stroke-width="3.0"/><line x1="1198.7" y1="220.1" x2="1197.8" y2="214.3" stroke="#d80000" stroke-width="3.0"/><line x1="1199.5" y1="225.9" x2="1206.4" y2="230.4" stroke="#bdb400" stroke-width="3.0"/><line x1="1206.4" y1="230.4" x2="1213.2" y2="235.0" stroke="#1414d8" stroke-width="3.0"/><line x1="1213.2" y1="235.0" x2="1220.2" y2="230.8" stroke="#1414d8" stroke-width="3.0"/><line x1="1220.2" y1="230.8" x2="1227.3" y2="226.6" stroke="#bdb400" stroke-width="3.0"/><line x1="1227.3" y1="226.6" x2="1230.6" y2="221.7" stroke="#bdb400" stroke-width="3.0"/><line x1="1230.6" y1="221.7" x2="1233.9" y2="216.8" stroke="#d80000" stroke-width="3.0"/><line x1="1227.3" y1="226.6" x2="1233.2" y2="235.0" stroke="#bdb400" stroke-width="3.0"/><line x1="1233.2" y1="235.0" x2="1239.2" y2="243.4" stroke="#505050" stroke-width="3.0"/><line x1="1239.2" y1="243.4" x2="1246.0" y2="242.5" stroke="#505050" stroke-width="3.0"/><line x1="1246.0" y1="242.5" x2="1252.9" y2="241.7" stroke="#6fb0e6" stroke-width="3.0"/><line x1="1239.2" y1="243.4" x2="1236.2" y2="249.4" stroke="#505050" stroke-width="3.0"/><line x1="1236.2" y1="249.4" x2="1233.2" y2="255.4" stroke="#6fb0e6" stroke-width="3.0"/><circle cx="1170.8" cy="234.3" r="4.9" fill="url(#gF)"/><circle cx="1185.8" cy="237.1" r="5.6" fill="url(#gC)"/><circle cx="1187.6" cy="252.2" r="4.9" fill="url(#gF)"/><circle cx="1199.5" cy="225.9" r="5.6" fill="url(#gS)"/><circle cx="1197.8" cy="214.3" r="5.1" fill="url(#gO)"/><circle cx="1199.2" cy="218.9" r="5.1" fill="url(#gO)"/><circle cx="1213.2" cy="235.0" r="5.0" fill="url(#gN)"/><circle cx="1227.3" cy="226.6" r="5.6" fill="url(#gS)"/><circle cx="1233.9" cy="216.8" r="5.1" fill="url(#gO)"/><circle cx="1239.2" cy="243.4" r="5.6" fill="url(#gC)"/><circle cx="1252.9" cy="241.7" r="4.9" fill="url(#gF)"/><circle cx="1233.2" cy="255.4" r="4.9" fill="url(#gF)"/></g>
<polygon transform="translate(1006.0,165.7) rotate(-6.2)" points="-53.0,0.0 -35.5,-16.5 -35.5,-7.0 35.5,-7.0 35.5,-16.5 53.0,0.0 35.5,16.5 35.5,7.0 -35.5,7.0 -35.5,16.5" fill="#fff" stroke="#000" stroke-width="3.7" stroke-linejoin="miter"/>
<polygon transform="translate(1008.2,238.8) rotate(-6.2)" points="-53.0,0.0 -35.5,-16.5 -35.5,-7.0 35.5,-7.0 35.5,-16.5 53.0,0.0 35.5,16.5 35.5,7.0 -35.5,7.0 -35.5,16.5" fill="#fff" stroke="#375623" stroke-width="3.7" stroke-linejoin="miter"/>
<polygon transform="translate(997.0,309.7) rotate(-6.2)" points="-52.5,0.0 -35.0,-16.5 -35.0,-7.0 35.0,-7.0 35.0,-16.5 52.5,0.0 35.0,16.5 35.0,7.0 -35.0,7.0 -35.0,16.5" fill="#fff" stroke="#000" stroke-width="3.7" stroke-linejoin="miter"/>
<text x="1006.0" y="412.0" font-size="22.4" font-weight="bold" font-style="italic" text-anchor="middle">Chemical-selectivity guided contact</text>
<polygon points="1280.0,221.0 1333.5,221.0 1333.5,209.5 1355.5,231.0 1333.5,252.5 1333.5,241.0 1280.0,241.0" fill="#000"/>
<rect x="1546.7" y="120.0" width="39.0" height="331.5" fill="#fbe5d6"/>
<rect x="1585.7" y="120.0" width="176.3" height="331.5" fill="#e2efda"/>
<path d="M1423.2,456 V78 M1409,103 L1423.2,78.5 L1437.4,103" fill="none" stroke="#000" stroke-width="5.4" stroke-linecap="round" stroke-linejoin="miter"/>
<path d="M1423,275 H1882 M1860,261.3 L1882.6,275 L1860,288.7" fill="none" stroke="#000" stroke-width="5.4" stroke-linecap="round" stroke-linejoin="miter"/>
<path d="M1423,453.8 H1882 M1860,440.1 L1882.6,453.8 L1860,467.5" fill="none" stroke="#000" stroke-width="5.4" stroke-linecap="round" stroke-linejoin="miter"/>
<line x1="1425.5" y1="141.8" x2="1544.0" y2="141.8" stroke="#002060" stroke-width="5"/>
<line x1="1544.0" y1="141.8" x2="1579.0" y2="167.0" stroke="#002060" stroke-width="5" stroke-dasharray="5.5 4"/>
<line x1="1579.0" y1="168.3" x2="1744.0" y2="168.3" stroke="#002060" stroke-width="5"/><polygon points="1739.5,156.8 1762.0,168.3 1739.5,179.8" fill="#002060"/>
<line x1="1425.5" y1="239.7" x2="1542.0" y2="239.7" stroke="#002060" stroke-width="5"/>
<line x1="1542.0" y1="239.7" x2="1578.0" y2="216.0" stroke="#002060" stroke-width="5" stroke-dasharray="5.5 4"/>
<line x1="1579.0" y1="215.0" x2="1745.0" y2="215.0" stroke="#002060" stroke-width="5"/><polygon points="1740.5,203.5 1763.0,215.0 1740.5,226.5" fill="#002060"/>
<line x1="1425.5" y1="323.7" x2="1543.0" y2="323.7" stroke="#c00000" stroke-width="5"/>
<line x1="1545.0" y1="323.7" x2="1575.0" y2="323.7" stroke="#c00000" stroke-width="5" stroke-dasharray="6 4 8 4 6 4"/>
<line x1="1580.0" y1="323.7" x2="1746.0" y2="323.7" stroke="#c00000" stroke-width="5"/><polygon points="1741.5,312.2 1764.0,323.7 1741.5,335.2" fill="#c00000"/>
<line x1="1425.5" y1="386.8" x2="1543.0" y2="386.8" stroke="#c00000" stroke-width="5"/>
<line x1="1545.0" y1="386.8" x2="1575.0" y2="386.8" stroke="#c00000" stroke-width="5" stroke-dasharray="6 4 8 4 6 4"/>
<line x1="1580.0" y1="386.8" x2="1746.0" y2="386.8" stroke="#c00000" stroke-width="5"/><polygon points="1741.5,375.3 1764.0,386.8 1741.5,398.3" fill="#c00000"/>
<text x="1563.0" y="108.0" font-size="22.6" font-weight="bold" font-style="italic" fill="#c00000" text-anchor="middle">Damaged</text>
<text transform="translate(1390.8,263.0) rotate(-90)" font-size="22.6" font-weight="bold" text-anchor="middle">Quantity</text>
<text x="1787.0" y="170.0" font-size="22.5" font-weight="bold" fill="#002060"><tspan font-style="italic">R</tspan> <tspan font-size="16.5" dy="-1.5">∝</tspan><tspan dy="1.5"> d/A</tspan></text>
<text x="1787.0" y="223.0" font-size="22.5" font-weight="bold" fill="#002060"><tspan font-style="italic">C</tspan> <tspan font-size="16.5" dy="-1.5">∝</tspan><tspan dy="1.5"> A/d</tspan></text>
<text x="1789.0" y="331.5" font-size="22.5" font-weight="bold" font-style="italic" fill="#c00000">τ = R <tspan font-weight="normal" font-style="normal" font-size="19">×</tspan> C</text>
<text x="1789.0" y="395.5" font-size="22" font-weight="bold" font-style="italic" fill="#c00000">C/C<tspan font-size="14" dy="5" font-style="normal">o</tspan></text>
<text x="1489.0" y="487.0" font-size="22.6" font-weight="bold" font-style="italic" text-anchor="middle">Pristine</text>
<text x="1672.0" y="487.0" font-size="22.6" font-weight="bold" font-style="italic" fill="#375623" text-anchor="middle">Self-Healed</text>
</g>
<g id="panel_b">
<text x="66.0" y="614.5" font-size="26" text-anchor="middle">b</text>
<text x="372.5" y="613.0" font-size="22.25" font-weight="bold" text-anchor="middle">Self-healing materials for multimodal sensor</text>
<rect x="67.5" y="657.5" width="541.5" height="202.5" fill="#fff" stroke="#896fa9" stroke-width="3.9" rx="27"/>
<text x="338.0" y="692.0" font-size="22.25" font-weight="bold" text-anchor="middle">Self-healing ionic conductor</text>
<rect x="98.5" y="707.5" width="227.5" height="130.0" fill="url(#bI1)"/>
<circle cx="201.6" cy="780.0" r="0.73" fill="#30343a" opacity="0.36"/><circle cx="214.0" cy="783.5" r="0.51" fill="#30343a" opacity="0.38"/><circle cx="241.3" cy="809.4" r="0.48" fill="#30343a" opacity="0.29"/><circle cx="120.8" cy="811.5" r="0.66" fill="#30343a" opacity="0.17"/><circle cx="320.0" cy="831.1" r="0.65" fill="#30343a" opacity="0.43"/><circle cx="135.7" cy="711.4" r="0.61" fill="#30343a" opacity="0.18"/><circle cx="143.0" cy="740.0" r="0.46" fill="#30343a" opacity="0.36"/><circle cx="199.0" cy="815.6" r="0.61" fill="#30343a" opacity="0.44"/><circle cx="212.2" cy="793.0" r="0.59" fill="#30343a" opacity="0.28"/><circle cx="323.5" cy="835.0" r="0.70" fill="#30343a" opacity="0.47"/><circle cx="171.0" cy="738.4" r="0.54" fill="#30343a" opacity="0.18"/><circle cx="271.8" cy="760.0" r="0.70" fill="#30343a" opacity="0.32"/><circle cx="314.6" cy="816.3" r="0.45" fill="#30343a" opacity="0.24"/><circle cx="303.9" cy="768.7" r="0.74" fill="#30343a" opacity="0.33"/><circle cx="116.8" cy="788.8" r="0.68" fill="#30343a" opacity="0.27"/><circle cx="120.0" cy="751.4" r="0.74" fill="#30343a" opacity="0.49"/><circle cx="126.9" cy="740.5" r="0.48" fill="#30343a" opacity="0.18"/><circle cx="278.6" cy="731.9" r="0.62" fill="#30343a" opacity="0.35"/><circle cx="143.1" cy="801.7" r="0.49" fill="#30343a" opacity="0.44"/><circle cx="126.5" cy="762.5" r="0.51" fill="#30343a" opacity="0.27"/><circle cx="317.5" cy="810.7" r="0.54" fill="#30343a" opacity="0.55"/><circle cx="147.6" cy="759.2" r="0.71" fill="#30343a" opacity="0.44"/><circle cx="122.9" cy="834.2" r="0.51" fill="#30343a" opacity="0.27"/><circle cx="273.2" cy="750.9" r="0.54" fill="#30343a" opacity="0.18"/><circle cx="120.6" cy="782.9" r="0.52" fill="#30343a" opacity="0.42"/><circle cx="183.6" cy="766.6" r="0.74" fill="#30343a" opacity="0.37"/><circle cx="228.9" cy="818.7" r="0.50" fill="#30343a" opacity="0.22"/><circle cx="303.5" cy="812.5" r="0.52" fill="#30343a" opacity="0.24"/><circle cx="265.8" cy="828.0" r="0.51" fill="#30343a" opacity="0.58"/><circle cx="297.7" cy="785.5" r="0.58" fill="#30343a" opacity="0.20"/><circle cx="109.1" cy="830.8" r="0.52" fill="#30343a" opacity="0.47"/><circle cx="157.9" cy="813.3" r="0.63" fill="#30343a" opacity="0.28"/><circle cx="139.7" cy="800.3" r="0.47" fill="#30343a" opacity="0.25"/><circle cx="225.5" cy="816.9" r="0.63" fill="#30343a" opacity="0.28"/><circle cx="305.5" cy="735.2" r="0.45" fill="#30343a" opacity="0.27"/><circle cx="200.1" cy="717.1" r="0.50" fill="#30343a" opacity="0.32"/><circle cx="228.4" cy="726.1" r="0.56" fill="#30343a" opacity="0.55"/><circle cx="319.6" cy="792.3" r="0.66" fill="#30343a" opacity="0.41"/><circle cx="131.9" cy="713.9" r="0.46" fill="#30343a" opacity="0.56"/><circle cx="257.2" cy="830.8" r="0.46" fill="#30343a" opacity="0.44"/><circle cx="208.3" cy="801.5" r="0.55" fill="#30343a" opacity="0.60"/><circle cx="117.3" cy="778.3" r="0.67" fill="#30343a" opacity="0.56"/><circle cx="265.2" cy="798.2" r="0.69" fill="#30343a" opacity="0.56"/><circle cx="179.1" cy="795.8" r="0.72" fill="#30343a" opacity="0.54"/><circle cx="193.7" cy="809.1" r="0.71" fill="#30343a" opacity="0.41"/><circle cx="240.2" cy="757.7" r="0.62" fill="#30343a" opacity="0.42"/><circle cx="118.4" cy="790.1" r="0.75" fill="#30343a" opacity="0.55"/><circle cx="263.3" cy="758.4" r="0.67" fill="#30343a" opacity="0.41"/><circle cx="199.0" cy="815.1" r="0.48" fill="#30343a" opacity="0.49"/><circle cx="107.2" cy="785.3" r="0.59" fill="#30343a" opacity="0.25"/><circle cx="256.6" cy="772.2" r="0.63" fill="#30343a" opacity="0.56"/><circle cx="157.7" cy="710.9" r="0.54" fill="#30343a" opacity="0.46"/><circle cx="145.8" cy="730.9" r="0.72" fill="#30343a" opacity="0.45"/><circle cx="199.3" cy="821.9" r="0.55" fill="#30343a" opacity="0.45"/><circle cx="144.9" cy="763.8" r="0.69" fill="#30343a" opacity="0.56"/><circle cx="297.2" cy="757.9" r="0.62" fill="#30343a" opacity="0.29"/><circle cx="130.9" cy="772.1" r="0.70" fill="#30343a" opacity="0.53"/><circle cx="259.5" cy="829.2" r="0.53" fill="#30343a" opacity="0.23"/><circle cx="201.2" cy="744.2" r="0.51" fill="#30343a" opacity="0.34"/><circle cx="240.4" cy="771.7" r="0.54" fill="#30343a" opacity="0.53"/><circle cx="320.0" cy="766.5" r="0.47" fill="#30343a" opacity="0.16"/><circle cx="295.6" cy="714.7" r="0.66" fill="#30343a" opacity="0.41"/><circle cx="169.6" cy="809.2" r="0.46" fill="#30343a" opacity="0.21"/><circle cx="202.2" cy="712.6" r="0.70" fill="#30343a" opacity="0.26"/><circle cx="132.0" cy="715.4" r="0.64" fill="#30343a" opacity="0.35"/><circle cx="241.3" cy="792.0" r="0.69" fill="#30343a" opacity="0.58"/><circle cx="253.5" cy="734.6" r="0.59" fill="#30343a" opacity="0.23"/><circle cx="102.9" cy="769.0" r="0.66" fill="#30343a" opacity="0.23"/><circle cx="161.4" cy="753.1" r="0.66" fill="#30343a" opacity="0.38"/><circle cx="237.8" cy="804.8" r="0.57" fill="#30343a" opacity="0.51"/><circle cx="303.0" cy="720.5" r="0.73" fill="#30343a" opacity="0.48"/><circle cx="129.5" cy="766.6" r="0.64" fill="#30343a" opacity="0.56"/><circle cx="184.7" cy="781.2" r="0.71" fill="#30343a" opacity="0.51"/><circle cx="311.5" cy="767.9" r="0.65" fill="#30343a" opacity="0.24"/><circle cx="261.9" cy="812.6" r="0.64" fill="#30343a" opacity="0.47"/><circle cx="148.2" cy="822.9" r="0.74" fill="#30343a" opacity="0.59"/><circle cx="220.5" cy="809.1" r="0.55" fill="#30343a" opacity="0.56"/><circle cx="291.8" cy="753.4" r="0.47" fill="#30343a" opacity="0.35"/><circle cx="223.5" cy="806.3" r="0.60" fill="#30343a" opacity="0.16"/><circle cx="281.3" cy="717.6" r="0.69" fill="#30343a" opacity="0.23"/><circle cx="175.4" cy="808.8" r="0.49" fill="#30343a" opacity="0.22"/><circle cx="215.9" cy="800.7" r="0.70" fill="#30343a" opacity="0.46"/><circle cx="311.9" cy="771.6" r="0.73" fill="#30343a" opacity="0.19"/><circle cx="150.0" cy="775.9" r="0.54" fill="#30343a" opacity="0.48"/><circle cx="243.3" cy="775.4" r="0.70" fill="#30343a" opacity="0.40"/><circle cx="170.2" cy="757.5" r="0.70" fill="#30343a" opacity="0.56"/><circle cx="147.0" cy="816.7" r="0.74" fill="#30343a" opacity="0.39"/><circle cx="228.6" cy="734.8" r="0.61" fill="#30343a" opacity="0.38"/><circle cx="235.8" cy="713.0" r="0.74" fill="#30343a" opacity="0.38"/><circle cx="190.0" cy="810.4" r="0.62" fill="#30343a" opacity="0.37"/><circle cx="254.9" cy="717.8" r="0.61" fill="#30343a" opacity="0.34"/><circle cx="314.4" cy="825.9" r="0.53" fill="#30343a" opacity="0.36"/><circle cx="128.9" cy="764.1" r="0.69" fill="#30343a" opacity="0.56"/><circle cx="207.0" cy="749.5" r="0.51" fill="#30343a" opacity="0.43"/><circle cx="307.3" cy="725.8" r="0.68" fill="#30343a" opacity="0.16"/><circle cx="143.9" cy="738.1" r="0.66" fill="#30343a" opacity="0.29"/><circle cx="179.9" cy="787.6" r="0.48" fill="#30343a" opacity="0.48"/><circle cx="127.9" cy="773.8" r="0.53" fill="#30343a" opacity="0.24"/><circle cx="219.0" cy="764.5" r="0.56" fill="#30343a" opacity="0.34"/><circle cx="218.8" cy="729.6" r="0.51" fill="#30343a" opacity="0.43"/><circle cx="243.2" cy="776.2" r="0.71" fill="#30343a" opacity="0.43"/><circle cx="292.0" cy="738.8" r="0.67" fill="#30343a" opacity="0.51"/><circle cx="302.2" cy="749.3" r="0.54" fill="#30343a" opacity="0.57"/><circle cx="149.3" cy="835.3" r="0.72" fill="#30343a" opacity="0.21"/><circle cx="154.0" cy="801.0" r="0.53" fill="#30343a" opacity="0.19"/><circle cx="286.5" cy="762.6" r="0.69" fill="#30343a" opacity="0.21"/><circle cx="190.5" cy="795.8" r="0.46" fill="#30343a" opacity="0.24"/><circle cx="253.0" cy="824.3" r="0.74" fill="#30343a" opacity="0.20"/><circle cx="213.5" cy="805.0" r="0.60" fill="#30343a" opacity="0.46"/><circle cx="142.7" cy="718.4" r="0.48" fill="#30343a" opacity="0.17"/><circle cx="223.8" cy="774.4" r="0.62" fill="#30343a" opacity="0.22"/><circle cx="141.7" cy="735.2" r="0.70" fill="#30343a" opacity="0.60"/><circle cx="307.7" cy="721.5" r="0.47" fill="#30343a" opacity="0.58"/><circle cx="203.8" cy="805.9" r="0.55" fill="#30343a" opacity="0.36"/><circle cx="215.7" cy="763.7" r="0.63" fill="#30343a" opacity="0.16"/><circle cx="257.2" cy="815.9" r="0.50" fill="#30343a" opacity="0.35"/><circle cx="265.7" cy="760.6" r="0.51" fill="#30343a" opacity="0.22"/><circle cx="215.1" cy="711.4" r="0.72" fill="#30343a" opacity="0.51"/><circle cx="258.0" cy="818.0" r="0.64" fill="#30343a" opacity="0.33"/><circle cx="234.5" cy="773.0" r="0.74" fill="#30343a" opacity="0.51"/><circle cx="158.2" cy="824.3" r="0.67" fill="#30343a" opacity="0.50"/><circle cx="282.6" cy="760.6" r="0.72" fill="#30343a" opacity="0.55"/><circle cx="255.8" cy="806.2" r="0.68" fill="#30343a" opacity="0.33"/><circle cx="262.0" cy="718.4" r="0.55" fill="#30343a" opacity="0.36"/><circle cx="102.9" cy="754.3" r="0.64" fill="#30343a" opacity="0.43"/><circle cx="152.4" cy="828.5" r="0.65" fill="#30343a" opacity="0.30"/><circle cx="248.0" cy="781.3" r="0.61" fill="#30343a" opacity="0.33"/><circle cx="324.0" cy="790.4" r="0.66" fill="#30343a" opacity="0.49"/><circle cx="319.5" cy="712.4" r="0.63" fill="#30343a" opacity="0.48"/><circle cx="157.9" cy="760.1" r="0.47" fill="#30343a" opacity="0.24"/><circle cx="184.5" cy="721.9" r="0.53" fill="#30343a" opacity="0.56"/><circle cx="223.4" cy="773.5" r="0.74" fill="#30343a" opacity="0.41"/><circle cx="322.9" cy="789.9" r="0.69" fill="#30343a" opacity="0.18"/><circle cx="234.0" cy="805.2" r="0.46" fill="#30343a" opacity="0.57"/><circle cx="136.2" cy="768.9" r="0.50" fill="#30343a" opacity="0.37"/><circle cx="237.1" cy="716.9" r="0.73" fill="#30343a" opacity="0.34"/><circle cx="218.2" cy="784.8" r="0.56" fill="#30343a" opacity="0.28"/><circle cx="246.9" cy="780.1" r="0.54" fill="#30343a" opacity="0.47"/><circle cx="166.7" cy="711.3" r="0.52" fill="#30343a" opacity="0.17"/><circle cx="135.5" cy="804.6" r="0.57" fill="#30343a" opacity="0.55"/><circle cx="267.8" cy="715.8" r="0.75" fill="#30343a" opacity="0.58"/><circle cx="116.9" cy="823.6" r="0.58" fill="#30343a" opacity="0.36"/><circle cx="318.0" cy="740.2" r="0.61" fill="#30343a" opacity="0.57"/><circle cx="262.0" cy="768.5" r="0.74" fill="#30343a" opacity="0.52"/><circle cx="235.4" cy="724.0" r="0.64" fill="#30343a" opacity="0.36"/><circle cx="146.0" cy="716.1" r="0.61" fill="#30343a" opacity="0.21"/><circle cx="199.5" cy="793.7" r="0.59" fill="#30343a" opacity="0.27"/><circle cx="230.6" cy="762.4" r="0.68" fill="#30343a" opacity="0.39"/><circle cx="323.5" cy="829.5" r="0.67" fill="#30343a" opacity="0.26"/><circle cx="125.9" cy="822.0" r="0.69" fill="#30343a" opacity="0.43"/><circle cx="180.8" cy="743.7" r="0.66" fill="#30343a" opacity="0.40"/><circle cx="232.7" cy="789.3" r="0.68" fill="#30343a" opacity="0.24"/><circle cx="156.1" cy="832.9" r="0.72" fill="#30343a" opacity="0.55"/><circle cx="109.3" cy="717.2" r="0.53" fill="#30343a" opacity="0.34"/><circle cx="239.8" cy="722.4" r="0.61" fill="#30343a" opacity="0.18"/><circle cx="119.8" cy="794.7" r="0.62" fill="#30343a" opacity="0.43"/><circle cx="183.9" cy="769.8" r="0.51" fill="#30343a" opacity="0.30"/><circle cx="267.0" cy="815.2" r="0.47" fill="#30343a" opacity="0.20"/><circle cx="281.4" cy="788.1" r="0.68" fill="#30343a" opacity="0.25"/><circle cx="195.3" cy="742.0" r="0.69" fill="#30343a" opacity="0.32"/><circle cx="246.6" cy="834.1" r="0.55" fill="#30343a" opacity="0.40"/><circle cx="267.3" cy="825.5" r="0.58" fill="#30343a" opacity="0.32"/><circle cx="122.2" cy="819.8" r="0.47" fill="#30343a" opacity="0.19"/><circle cx="226.6" cy="770.6" r="0.66" fill="#30343a" opacity="0.28"/><circle cx="273.8" cy="719.1" r="0.51" fill="#30343a" opacity="0.45"/><circle cx="118.8" cy="747.8" r="0.67" fill="#30343a" opacity="0.46"/><circle cx="163.7" cy="727.5" r="0.56" fill="#30343a" opacity="0.48"/><circle cx="182.4" cy="724.3" r="0.66" fill="#30343a" opacity="0.41"/><circle cx="305.8" cy="827.9" r="0.72" fill="#30343a" opacity="0.35"/><circle cx="280.0" cy="747.9" r="0.55" fill="#30343a" opacity="0.33"/>
<circle cx="206.6" cy="792.3" r="0.95" fill="#30343a" opacity="0.56"/><circle cx="102.9" cy="756.7" r="0.66" fill="#30343a" opacity="0.82"/><circle cx="254.8" cy="785.3" r="0.87" fill="#30343a" opacity="0.76"/><circle cx="133.0" cy="764.9" r="0.57" fill="#30343a" opacity="0.86"/><circle cx="113.6" cy="812.7" r="0.51" fill="#30343a" opacity="0.77"/><circle cx="175.8" cy="760.5" r="1.08" fill="#30343a" opacity="0.51"/><circle cx="114.1" cy="824.8" r="0.83" fill="#30343a" opacity="0.54"/><circle cx="321.1" cy="828.8" r="0.53" fill="#30343a" opacity="0.67"/><circle cx="130.7" cy="748.9" r="0.92" fill="#30343a" opacity="0.57"/><circle cx="256.2" cy="716.0" r="0.58" fill="#30343a" opacity="0.83"/><circle cx="190.0" cy="762.3" r="0.90" fill="#30343a" opacity="0.69"/><circle cx="186.5" cy="713.3" r="0.99" fill="#30343a" opacity="0.89"/>
<line x1="204.3" y1="708.0" x2="208.0" y2="837.0" stroke="#8a9896" stroke-width="0.9" opacity="0.8"/>
<ellipse cx="270.5" cy="748" rx="1.2" ry="3.2" transform="rotate(-25 270.5 748)" fill="#2a2e33"/>
<ellipse cx="112" cy="737.5" rx="1" ry="2.2" transform="rotate(-40 112 737.5)" fill="#2a2e33"/>
<rect x="346.3" y="706.0" width="229.7" height="130.7" fill="url(#bI2)"/>
<circle cx="385.5" cy="795.4" r="0.61" fill="#30343a" opacity="0.32"/><circle cx="397.1" cy="808.4" r="0.65" fill="#30343a" opacity="0.33"/><circle cx="462.3" cy="737.9" r="0.45" fill="#30343a" opacity="0.28"/><circle cx="480.4" cy="716.8" r="0.65" fill="#30343a" opacity="0.23"/><circle cx="400.8" cy="713.4" r="0.70" fill="#30343a" opacity="0.41"/><circle cx="545.8" cy="786.0" r="0.46" fill="#30343a" opacity="0.27"/><circle cx="460.6" cy="722.7" r="0.69" fill="#30343a" opacity="0.28"/><circle cx="383.2" cy="811.6" r="0.48" fill="#30343a" opacity="0.47"/><circle cx="450.6" cy="777.9" r="0.54" fill="#30343a" opacity="0.32"/><circle cx="390.5" cy="712.7" r="0.67" fill="#30343a" opacity="0.23"/><circle cx="524.4" cy="734.4" r="0.69" fill="#30343a" opacity="0.46"/><circle cx="518.7" cy="804.6" r="0.60" fill="#30343a" opacity="0.41"/><circle cx="375.9" cy="768.4" r="0.66" fill="#30343a" opacity="0.22"/><circle cx="556.7" cy="820.5" r="0.55" fill="#30343a" opacity="0.28"/><circle cx="450.2" cy="756.9" r="0.70" fill="#30343a" opacity="0.29"/><circle cx="354.4" cy="719.8" r="0.63" fill="#30343a" opacity="0.50"/><circle cx="460.2" cy="770.3" r="0.59" fill="#30343a" opacity="0.41"/><circle cx="398.4" cy="785.1" r="0.59" fill="#30343a" opacity="0.37"/><circle cx="389.1" cy="729.6" r="0.54" fill="#30343a" opacity="0.47"/><circle cx="426.5" cy="783.7" r="0.53" fill="#30343a" opacity="0.19"/><circle cx="363.1" cy="811.1" r="0.64" fill="#30343a" opacity="0.28"/><circle cx="502.5" cy="793.6" r="0.67" fill="#30343a" opacity="0.49"/><circle cx="440.2" cy="833.3" r="0.69" fill="#30343a" opacity="0.36"/><circle cx="547.6" cy="770.2" r="0.54" fill="#30343a" opacity="0.24"/><circle cx="546.0" cy="728.6" r="0.47" fill="#30343a" opacity="0.43"/><circle cx="523.0" cy="769.2" r="0.66" fill="#30343a" opacity="0.17"/><circle cx="406.5" cy="744.7" r="0.55" fill="#30343a" opacity="0.21"/><circle cx="364.0" cy="750.8" r="0.67" fill="#30343a" opacity="0.49"/><circle cx="516.6" cy="768.7" r="0.51" fill="#30343a" opacity="0.49"/><circle cx="466.9" cy="800.3" r="0.46" fill="#30343a" opacity="0.22"/><circle cx="537.5" cy="808.8" r="0.67" fill="#30343a" opacity="0.36"/><circle cx="444.5" cy="781.6" r="0.66" fill="#30343a" opacity="0.26"/><circle cx="468.9" cy="743.0" r="0.64" fill="#30343a" opacity="0.15"/><circle cx="503.0" cy="828.9" r="0.46" fill="#30343a" opacity="0.36"/><circle cx="493.6" cy="815.9" r="0.60" fill="#30343a" opacity="0.24"/><circle cx="439.8" cy="829.5" r="0.68" fill="#30343a" opacity="0.20"/><circle cx="369.7" cy="719.9" r="0.46" fill="#30343a" opacity="0.31"/><circle cx="380.1" cy="817.9" r="0.61" fill="#30343a" opacity="0.19"/><circle cx="469.9" cy="749.1" r="0.57" fill="#30343a" opacity="0.23"/><circle cx="385.8" cy="731.3" r="0.54" fill="#30343a" opacity="0.40"/><circle cx="472.4" cy="713.9" r="0.63" fill="#30343a" opacity="0.46"/><circle cx="523.0" cy="808.2" r="0.45" fill="#30343a" opacity="0.31"/><circle cx="362.6" cy="804.8" r="0.49" fill="#30343a" opacity="0.40"/><circle cx="405.4" cy="796.3" r="0.53" fill="#30343a" opacity="0.16"/><circle cx="436.1" cy="747.2" r="0.68" fill="#30343a" opacity="0.25"/><circle cx="461.9" cy="777.6" r="0.69" fill="#30343a" opacity="0.18"/><circle cx="484.0" cy="772.4" r="0.63" fill="#30343a" opacity="0.49"/><circle cx="418.3" cy="796.6" r="0.58" fill="#30343a" opacity="0.35"/><circle cx="362.7" cy="811.2" r="0.69" fill="#30343a" opacity="0.27"/><circle cx="420.1" cy="833.8" r="0.48" fill="#30343a" opacity="0.18"/><circle cx="364.9" cy="811.2" r="0.64" fill="#30343a" opacity="0.31"/><circle cx="488.5" cy="710.5" r="0.61" fill="#30343a" opacity="0.30"/><circle cx="465.1" cy="757.3" r="0.55" fill="#30343a" opacity="0.23"/><circle cx="359.3" cy="763.0" r="0.51" fill="#30343a" opacity="0.40"/><circle cx="532.8" cy="799.7" r="0.56" fill="#30343a" opacity="0.23"/>
<circle cx="564.6" cy="725.8" r="0.47" fill="#30343a" opacity="0.90"/><circle cx="389.9" cy="723.3" r="0.87" fill="#30343a" opacity="0.64"/><circle cx="549.1" cy="737.4" r="1.07" fill="#30343a" opacity="0.63"/><circle cx="484.0" cy="826.1" r="0.90" fill="#30343a" opacity="0.87"/><circle cx="508.1" cy="714.1" r="1.02" fill="#30343a" opacity="0.74"/><circle cx="418.4" cy="732.1" r="1.00" fill="#30343a" opacity="0.73"/>
<ellipse cx="377.5" cy="735.8" rx="1.3" ry="2.6" transform="rotate(-50 377.5 735.8)" fill="#2a2e33"/>
<ellipse cx="534.5" cy="751.5" rx="1.2" ry="2.4" transform="rotate(-30 534.5 751.5)" fill="#2a2e33"/>
<ellipse cx="402.8" cy="717" rx="1.6" ry="1.6" fill="#2a2e33"/>
<path d="M191.7,707.2H203.2M211.3,707.2H222.8M185.4,837.9H196.9M205.0,837.9H216.5M224.5,837.9H228.7M226.9,711.3V722.8M226.9,730.9V742.4M226.9,750.4V761.9M226.9,769.9V781.4M226.9,789.5V801.0M226.9,809.0V820.5M226.9,828.6V839.7M185.4,709.0V720.5M185.4,728.5V740.0M185.4,748.1V759.6M185.4,767.6V779.1M185.4,787.2V798.7M185.4,806.7V818.2M185.4,826.3V837.8" fill="none" stroke="#ff0000" stroke-width="3.6"/>
<path d="M446.3,708.6H457.8M465.9,708.6H477.4M443.8,840.4H455.3M463.4,840.4H474.9M482.9,840.4H484.8M483.0,711.3V722.8M483.0,730.9V742.4M483.0,750.4V761.9M483.0,769.9V781.4M483.0,789.5V801.0M483.0,809.0V820.5M483.0,828.6V840.1M441.5,711.8V723.3M441.5,731.4V742.9M441.5,750.9V762.4M441.5,770.4V781.9M441.5,790.0V801.5M441.5,809.5V821.0M441.5,829.1V840.6" fill="none" stroke="#ff0000" stroke-width="3.6"/>
<text x="107.0" y="726.6" font-size="18.1" font-weight="bold">SHIC-1</text>
<text x="297.0" y="819.8" font-size="15.3" font-weight="bold" text-anchor="middle">200 μm</text><line x1="281.0" y1="828.5" x2="313.5" y2="828.5" stroke="#000" stroke-width="2"/>
<text x="542.8" y="820.0" font-size="15.3" font-weight="bold" text-anchor="middle">200 μm</text><line x1="526.8" y1="828.5" x2="559.0" y2="828.5" stroke="#000" stroke-width="2"/>
<rect x="67.5" y="876.5" width="541.5" height="226.0" fill="#fff" stroke="#000" stroke-width="4" rx="27"/>
<text x="338.3" y="910.0" font-size="22.25" font-weight="bold" text-anchor="middle">Self-healing electrode</text>
<g filter="url(#speck1)"><rect x="100.0" y="922.0" width="229.0" height="133.5" fill="#858b8c"/><rect x="100.0" y="922.0" width="229.0" height="133.5" fill="url(#bE1a)"/><rect x="100.0" y="922.0" width="229.0" height="133.5" fill="url(#bE1b)"/></g>
<line x1="216.5" y1="922.0" x2="217.0" y2="1055.5" stroke="#4a4a48" stroke-width="1.1" opacity="0.8"/>
<g filter="url(#speck2)"><rect x="346.0" y="921.0" width="229.0" height="133.0" fill="#838b90"/><rect x="346.0" y="921.0" width="229.0" height="133.0" fill="url(#bE2a)"/><rect x="346.0" y="921.0" width="229.0" height="133.0" fill="url(#bE2b)"/></g>
<path d="M204.9,924.0H216.4M224.5,924.0H236.0M198.6,1054.7H210.1M218.2,1054.7H229.7M237.7,1054.7H241.2M239.6,927.9V939.4M239.6,947.4V958.9M239.6,967.0V978.5M239.6,986.5V998.0M239.6,1006.1V1017.6M239.6,1025.6V1037.1M239.6,1045.2V1056.4M198.6,926.3V937.8M198.6,945.8V957.3M198.6,965.4V976.9M198.6,984.9V996.4M198.6,1004.5V1016.0M198.6,1024.0V1035.5M198.6,1043.6V1055.1" fill="none" stroke="#ffff00" stroke-width="3.3"/>
<path d="M443.7,922.0H455.2M463.2,922.0H474.8M437.7,1052.7H449.2M457.2,1052.7H468.8M476.8,1052.7H480.8M479.1,926.1V937.6M479.1,945.6V957.1M479.1,965.2V976.7M479.1,984.7V996.2M479.1,1004.3V1015.8M479.1,1023.8V1035.3M479.1,1043.4V1054.4M437.7,924.0V935.5M437.7,943.5V955.0M437.7,963.1V974.6M437.7,982.6V994.1M437.7,1002.2V1013.7M437.7,1021.7V1033.2M437.7,1041.3V1052.8" fill="none" stroke="#ffff00" stroke-width="3.3"/>
<text x="148.0" y="938.0" font-size="18.4" font-weight="bold" fill="#ffff00" text-anchor="middle">Ag flake</text>
<text x="148.0" y="960.0" font-size="18.4" font-weight="bold" fill="#ffff00" text-anchor="middle">stretchable</text>
<text x="148.0" y="982.0" font-size="18.4" font-weight="bold" fill="#ffff00" text-anchor="middle">electrode</text>
<text x="297.0" y="1032.8" font-size="15.3" font-weight="bold" text-anchor="middle">200 μm</text><line x1="281.8" y1="1041.8" x2="313.7" y2="1041.8" stroke="#000" stroke-width="2"/>
<text x="542.0" y="1030.8" font-size="15.3" font-weight="bold" text-anchor="middle">200 μm</text><line x1="526.5" y1="1040.4" x2="558.8" y2="1040.4" stroke="#000" stroke-width="2"/>
<text x="214.4" y="1082.5" font-size="22.25" font-weight="bold" text-anchor="middle">Damaged</text>
<text x="462.8" y="1082.5" font-size="22.25" font-weight="bold" text-anchor="middle">Healed</text>
</g>
<g id="panel_c">
<text x="768.0" y="615.0" font-size="26" text-anchor="middle">c</text>
<text x="1058.3" y="612.0" font-size="22.42" font-weight="bold" text-anchor="middle">Strain-insensitive temperature sensing</text>
<text x="805.3" y="660.9" font-size="17.7" text-anchor="end">13</text>
<line x1="820.7" y1="749.5" x2="834.7" y2="749.5" stroke="#000" stroke-width="2.3"/>
<text x="805.3" y="754.7" font-size="17.7" text-anchor="end">12</text>
<line x1="820.7" y1="843.3" x2="834.7" y2="843.3" stroke="#000" stroke-width="2.3"/>
<text x="805.3" y="848.5" font-size="17.7" text-anchor="end">11</text>
<line x1="820.7" y1="937.2" x2="834.7" y2="937.2" stroke="#000" stroke-width="2.3"/>
<text x="805.3" y="942.4" font-size="17.7" text-anchor="end">10</text>
<text x="805.3" y="1036.2" font-size="17.7" text-anchor="end">9</text>
<line x1="879.3" y1="1031.0" x2="879.3" y2="1018.0" stroke="#000" stroke-width="2.3"/>
<text x="879.3" y="1060.3" font-size="17.7" text-anchor="middle">3.3</text>
<line x1="995.3" y1="1031.0" x2="995.3" y2="1018.0" stroke="#000" stroke-width="2.3"/>
<text x="995.3" y="1060.3" font-size="17.7" text-anchor="middle">3.2</text>
<line x1="1112.3" y1="1031.0" x2="1112.3" y2="1018.0" stroke="#000" stroke-width="2.3"/>
<text x="1112.3" y="1060.3" font-size="17.7" text-anchor="middle">3.1</text>
<line x1="1228.0" y1="1031.0" x2="1228.0" y2="1018.0" stroke="#000" stroke-width="2.3"/>
<text x="1228.0" y="1060.3" font-size="17.7" text-anchor="middle">3.0</text>
<polyline points="880.3,945.8 943.0,903.1 1003.0,858.8 1061.3,815.8 1118.0,773.1 1173.0,729.8 1226.7,686.5" fill="none" stroke="#000000" stroke-width="3" stroke-dasharray="4 8"/>
<polyline points="880.3,944.6 943.0,901.9 1003.0,857.6 1061.3,814.6 1118.0,771.9 1173.0,728.6 1226.7,685.3" fill="none" stroke="#4d4d4d" stroke-width="3.9"/>
<polyline points="880.3,954.6 943.0,911.0 1003.0,868.3 1061.3,825.0 1118.0,781.0 1173.0,738.3 1226.7,695.5" fill="none" stroke="#3cb371" stroke-width="3.0"/>
<polyline points="880.3,949.2 943.0,906.5 1003.0,862.2 1061.3,819.2 1118.0,776.5 1173.0,733.2 1226.7,689.9" fill="none" stroke="#1e5631" stroke-width="3.8" stroke-dasharray="1 11.6" stroke-linecap="round" stroke-dashoffset="-3"/>
<circle cx="880.3" cy="944.6" r="7.7" fill="#4d4d4d"/>
<circle cx="943.0" cy="901.9" r="7.7" fill="#4d4d4d"/>
<circle cx="1003.0" cy="857.6" r="7.7" fill="#4d4d4d"/>
<circle cx="1061.3" cy="814.6" r="7.7" fill="#4d4d4d"/>
<circle cx="1118.0" cy="771.9" r="7.7" fill="#4d4d4d"/>
<circle cx="1173.0" cy="728.6" r="7.7" fill="#4d4d4d"/>
<circle cx="1226.7" cy="685.3" r="7.7" fill="#4d4d4d"/>
<circle cx="880.3" cy="945.8" r="7.7" fill="#262626"/>
<circle cx="943.0" cy="903.1" r="7.7" fill="#262626"/>
<circle cx="1003.0" cy="858.8" r="7.7" fill="#262626"/>
<circle cx="1061.3" cy="815.8" r="7.7" fill="#262626"/>
<circle cx="1118.0" cy="773.1" r="7.7" fill="#262626"/>
<circle cx="1173.0" cy="729.8" r="7.7" fill="#262626"/>
<circle cx="1226.7" cy="686.5" r="7.7" fill="#262626"/>
<circle cx="880.3" cy="949.2" r="7.7" fill="#1e5631"/>
<circle cx="943.0" cy="906.5" r="7.7" fill="#1e5631"/>
<circle cx="1003.0" cy="862.2" r="7.7" fill="#1e5631"/>
<circle cx="1061.3" cy="819.2" r="7.7" fill="#1e5631"/>
<circle cx="1118.0" cy="776.5" r="7.7" fill="#1e5631"/>
<circle cx="1173.0" cy="733.2" r="7.7" fill="#1e5631"/>
<circle cx="1226.7" cy="689.9" r="7.7" fill="#1e5631"/>
<circle cx="880.3" cy="954.6" r="7.7" fill="#3cb371"/>
<circle cx="943.0" cy="911.0" r="7.7" fill="#3cb371"/>
<circle cx="1003.0" cy="868.3" r="7.7" fill="#3cb371"/>
<circle cx="1061.3" cy="825.0" r="7.7" fill="#3cb371"/>
<circle cx="1118.0" cy="781.0" r="7.7" fill="#3cb371"/>
<circle cx="1173.0" cy="738.3" r="7.7" fill="#3cb371"/>
<circle cx="1226.7" cy="695.5" r="7.7" fill="#3cb371"/>
<rect x="820.7" y="655.7" width="466.6" height="375.3" fill="none" stroke="#000" stroke-width="2.6"/>
<text x="875.7" y="914.7" font-size="18.2" font-weight="bold" text-anchor="middle">30 ℃</text>
<text x="991.5" y="833.2" font-size="18.2" font-weight="bold" text-anchor="middle">40 ℃</text>
<text x="1098.0" y="745.5" font-size="18.2" font-weight="bold" text-anchor="middle">50 ℃</text>
<text x="1177.8" y="687.3" font-size="18.2" font-weight="bold" text-anchor="middle">60 ℃</text>
<text x="1201.7" y="852.4" font-size="22.4" text-anchor="middle">Pristine</text>
<line x1="1137.7" y1="871.2" x2="1193.5" y2="871.2" stroke="#595959" stroke-width="4.2"/>
<circle cx="1165.6" cy="871.2" r="7.3" fill="#595959"/>
<text x="1216.7" y="879.7" font-size="22.4" fill="#595959">0%</text>
<line x1="1137.7" y1="903.7" x2="1193.5" y2="903.7" stroke="#3cb371" stroke-width="4.2"/>
<circle cx="1165.6" cy="903.7" r="7.3" fill="#3cb371"/>
<text x="1216.7" y="910.2" font-size="22.4" fill="#3cb371">50%</text>
<text x="1199.7" y="942.6" font-size="22.4" text-anchor="middle">After healed</text>
<line x1="1137.7" y1="963.7" x2="1193.5" y2="963.7" stroke="#000000" stroke-width="4.2" stroke-dasharray="4 3.4"/>
<circle cx="1165.6" cy="963.7" r="7.3" fill="#000000"/>
<text x="1216.7" y="971.2" font-size="22.4">0%</text>
<line x1="1137.7" y1="994.7" x2="1193.5" y2="994.7" stroke="#1e5631" stroke-width="4.2" stroke-dasharray="4 3.4"/>
<circle cx="1165.6" cy="994.7" r="7.3" fill="#1e5631"/>
<text x="1216.7" y="1003.2" font-size="22.4" fill="#1e5631">50%</text>
<text transform="translate(772.0,843.5) rotate(-90)" font-size="26.5" text-anchor="middle">ln(τ<tspan font-size="16" dy="-9">-1</tspan><tspan dy="9">)</tspan></text>
<text x="1055.5" y="1104.3" font-size="26.5" text-anchor="middle">1000/T (K<tspan font-size="16" dy="-9">-1</tspan><tspan dy="9">)</tspan></text>
</g>
<g id="panel_d">
<text x="1390.0" y="615.5" font-size="26" text-anchor="middle">d</text>
<text x="1675.7" y="614.0" font-size="22.56" font-weight="bold" text-anchor="middle">Temperature-insensitive strain sensing</text>
<line x1="1449.3" y1="1004.7" x2="1463.3" y2="1004.7" stroke="#000" stroke-width="2.3"/>
<text x="1434.5" y="1010.1" font-size="17.7" text-anchor="end">1.0</text>
<line x1="1449.3" y1="954.6" x2="1463.3" y2="954.6" stroke="#000" stroke-width="2.3"/>
<text x="1434.5" y="960.0" font-size="17.7" text-anchor="end">1.1</text>
<line x1="1449.3" y1="904.6" x2="1463.3" y2="904.6" stroke="#000" stroke-width="2.3"/>
<text x="1434.5" y="910.0" font-size="17.7" text-anchor="end">1.2</text>
<line x1="1449.3" y1="854.5" x2="1463.3" y2="854.5" stroke="#000" stroke-width="2.3"/>
<text x="1434.5" y="859.9" font-size="17.7" text-anchor="end">1.3</text>
<line x1="1449.3" y1="804.4" x2="1463.3" y2="804.4" stroke="#000" stroke-width="2.3"/>
<text x="1434.5" y="809.8" font-size="17.7" text-anchor="end">1.4</text>
<line x1="1449.3" y1="754.4" x2="1463.3" y2="754.4" stroke="#000" stroke-width="2.3"/>
<text x="1434.5" y="759.8" font-size="17.7" text-anchor="end">1.5</text>
<line x1="1449.3" y1="704.3" x2="1463.3" y2="704.3" stroke="#000" stroke-width="2.3"/>
<text x="1434.5" y="709.7" font-size="17.7" text-anchor="end">1.6</text>
<text x="1434.5" y="659.6" font-size="17.7" text-anchor="end">1.7</text>
<line x1="1488.3" y1="1030.0" x2="1488.3" y2="1017.0" stroke="#000" stroke-width="2.3"/>
<text x="1488.3" y="1058.5" font-size="17.7" text-anchor="middle">0</text>
<line x1="1566.0" y1="1030.0" x2="1566.0" y2="1017.0" stroke="#000" stroke-width="2.3"/>
<text x="1566.0" y="1058.5" font-size="17.7" text-anchor="middle">10</text>
<line x1="1643.7" y1="1030.0" x2="1643.7" y2="1017.0" stroke="#000" stroke-width="2.3"/>
<text x="1643.7" y="1058.5" font-size="17.7" text-anchor="middle">20</text>
<line x1="1721.3" y1="1030.0" x2="1721.3" y2="1017.0" stroke="#000" stroke-width="2.3"/>
<text x="1721.3" y="1058.5" font-size="17.7" text-anchor="middle">30</text>
<line x1="1799.0" y1="1030.0" x2="1799.0" y2="1017.0" stroke="#000" stroke-width="2.3"/>
<text x="1799.0" y="1058.5" font-size="17.7" text-anchor="middle">40</text>
<line x1="1876.7" y1="1030.0" x2="1876.7" y2="1017.0" stroke="#000" stroke-width="2.3"/>
<text x="1876.7" y="1058.5" font-size="17.7" text-anchor="middle">50</text>
<polyline points="1488.3,1004.7 1566.0,952.1 1643.7,885.5 1721.3,826.0 1799.0,754.4 1876.7,709.3" fill="none" stroke="#0b2d6b" stroke-width="3" stroke-dasharray="4 8"/>
<polyline points="1488.3,1004.7 1566.0,944.6 1643.7,884.5 1721.3,827.0 1799.0,759.4 1876.7,709.3" fill="none" stroke="#2173e0" stroke-width="3"/>
<polyline points="1488.3,1004.7 1566.0,949.6 1643.7,889.5 1721.3,824.5 1799.0,756.9 1876.7,701.8" fill="none" stroke="#f04248" stroke-width="3"/>
<polyline points="1488.3,1004.7 1566.0,953.1 1643.7,893.6 1721.3,821.0 1799.0,751.9 1876.7,706.8" fill="none" stroke="#7b0c0c" stroke-width="4" stroke-dasharray="1 11.5" stroke-linecap="round"/>
<circle cx="1488.3" cy="1004.7" r="7.6" fill="#2173e0"/>
<circle cx="1566.0" cy="944.6" r="7.6" fill="#2173e0"/>
<circle cx="1643.7" cy="884.5" r="7.6" fill="#2173e0"/>
<circle cx="1721.3" cy="827.0" r="7.6" fill="#2173e0"/>
<circle cx="1799.0" cy="759.4" r="7.6" fill="#2173e0"/>
<circle cx="1876.7" cy="709.3" r="7.6" fill="#2173e0"/>
<circle cx="1488.3" cy="1004.7" r="7.6" fill="#0b2d6b"/>
<circle cx="1566.0" cy="952.1" r="7.6" fill="#0b2d6b"/>
<circle cx="1643.7" cy="885.5" r="7.6" fill="#0b2d6b"/>
<circle cx="1721.3" cy="826.0" r="7.6" fill="#0b2d6b"/>
<circle cx="1799.0" cy="754.4" r="7.6" fill="#0b2d6b"/>
<circle cx="1876.7" cy="709.3" r="7.6" fill="#0b2d6b"/>
<circle cx="1488.3" cy="1004.7" r="7.6" fill="#f04248"/>
<circle cx="1566.0" cy="949.6" r="7.6" fill="#f04248"/>
<circle cx="1643.7" cy="889.5" r="7.6" fill="#f04248"/>
<circle cx="1721.3" cy="824.5" r="7.6" fill="#f04248"/>
<circle cx="1799.0" cy="756.9" r="7.6" fill="#f04248"/>
<circle cx="1876.7" cy="701.8" r="7.6" fill="#f04248"/>
<circle cx="1488.3" cy="1004.7" r="7.6" fill="#7b0c0c"/>
<circle cx="1566.0" cy="953.1" r="7.6" fill="#7b0c0c"/>
<circle cx="1643.7" cy="893.6" r="7.6" fill="#7b0c0c"/>
<circle cx="1721.3" cy="821.0" r="7.6" fill="#7b0c0c"/>
<circle cx="1799.0" cy="751.9" r="7.6" fill="#7b0c0c"/>
<circle cx="1876.7" cy="706.8" r="7.6" fill="#7b0c0c"/>
<rect x="1449.3" y="655.0" width="466.7" height="375.0" fill="none" stroke="#000" stroke-width="2.6"/>
<text x="1826.9" y="852.4" font-size="22.42" text-anchor="middle">Pristine</text>
<line x1="1765.0" y1="871.0" x2="1821.0" y2="871.0" stroke="#2173e0" stroke-width="4.2"/>
<circle cx="1793.0" cy="871.0" r="7.3" fill="#2173e0"/>
<text x="1841.2" y="878.6" font-size="22.4" fill="#2173e0">30 ℃</text>
<line x1="1765.0" y1="903.2" x2="1821.0" y2="903.2" stroke="#f04248" stroke-width="4.2"/>
<circle cx="1793.0" cy="903.2" r="7.3" fill="#f04248"/>
<text x="1841.2" y="909.5" font-size="22.4" fill="#f04248">50 ℃</text>
<text x="1825.0" y="942.5" font-size="22.42" text-anchor="middle">After healed</text>
<line x1="1765.0" y1="963.8" x2="1821.0" y2="963.8" stroke="#0b2d6b" stroke-width="4.2" stroke-dasharray="4 3.4"/>
<circle cx="1793.0" cy="963.8" r="7.3" fill="#0b2d6b"/>
<text x="1841.2" y="971.2" font-size="22.4" fill="#0b2d6b">30 ℃</text>
<line x1="1765.0" y1="994.6" x2="1821.0" y2="994.6" stroke="#7b0c0c" stroke-width="4.2" stroke-dasharray="4 3.4"/>
<circle cx="1793.0" cy="994.6" r="7.3" fill="#7b0c0c"/>
<text x="1841.2" y="1002.7" font-size="22.4" fill="#7b0c0c">50 ℃</text>
<text transform="translate(1393.0,843.0) rotate(-90)" font-size="26.5" text-anchor="middle">C/C<tspan font-size="17" dy="6">0</tspan></text>
<text x="1682.3" y="1100.0" font-size="26.5" text-anchor="middle">Strain (%)</text>
</g>
<g id="panel_e">
<text x="65.0" y="1211.0" font-size="26" text-anchor="middle">e</text>
<text x="348.2" y="1213.0" font-size="22.42" font-weight="bold" text-anchor="middle">Multimodal sensor real-time sensing</text>
<g clip-path="url(#eclip)"><rect x="0.0" y="1290.0" width="166.0" height="297.0" fill="url(#ebg)"/><rect x="59.6" y="1290.0" width="44.0" height="205.0" fill="url(#estick)"/><rect x="64.0" y="1490.0" width="38.0" height="97.0" fill="url(#estick2)"/><path d="M0,1478 C25,1482 50,1494 70,1500 C62,1506 50,1510 40,1512 C25,1515 10,1512 0,1511 Z" fill="#eceef2"/><path d="M166,1482 C140,1486 118,1492 100,1500 C104,1510 110,1516 118,1518 C135,1522 150,1522 166,1524 Z" fill="#eef0f5"/><path d="M0,1511 C15,1513 30,1515 42,1512 C52,1509 62,1504 72,1502" fill="none" stroke="#d2d3d8" stroke-width="1.6"/><path d="M92,1504 C96,1516 104,1524 116,1526 C134,1529 150,1530 166,1531" fill="none" stroke="#d3d4da" stroke-width="1.8"/><path d="M88,1503 C98,1500 108,1506 110,1514 C108,1522 100,1524 94,1520 Z" fill="#e4e4e8" opacity="0.9"/><g filter="url(#egrain)"><path d="M0,1456.5 C18,1457 38,1462 52,1468 C62,1472.5 70,1479 76,1485 C82,1488 90,1488 95,1484 C103,1475 112,1469 122,1466.5 C138,1463 152,1462.5 166,1462.5 L166,1480 C150,1479.5 132,1482 118,1487 C110,1490 104,1493 100,1497 C92,1503 78,1503 70,1497 C64,1492 54,1486 42,1481 C30,1476 14,1473 0,1472.5 Z" fill="url(#eband)"/></g><path d="M72,1492 C80,1499 92,1499 99,1492 C101,1497 98,1503 92,1506 C86,1508 78,1507 74,1502 Z" fill="#7d756c" opacity="0.85"/><path d="M70,1483.5 C78,1491 92,1491 100,1483 L100.5,1486.5 C92,1494 78,1494 70,1487 Z" fill="#f4f4f2"/><path d="M100,1487 C102,1491 102,1495 101,1498" fill="none" stroke="#b9a877" stroke-width="1.5" opacity="0.8"/></g><rect x="1.4" y="1291.4" width="163.1" height="293.7" fill="none" stroke="#000" stroke-width="3.1"/><text x="30.2" y="1334.5" font-size="18.3" font-weight="bold" text-anchor="middle">Glass</text><text x="30.2" y="1356.7" font-size="18.3" font-weight="bold" text-anchor="middle">stick</text><line x1="51.2" y1="1338.4" x2="75.0" y2="1338.4" stroke="#000" stroke-width="3.1"/><circle cx="75.0" cy="1338.4" r="7.4" fill="#000"/><text x="85.0" y="1396.8" font-size="18.3" font-weight="bold" fill="#f03a3a" text-anchor="middle">30 ℃</text><path d="M116.5,1353 V1436" fill="none" stroke="#000" stroke-width="6.4"/><path d="M106.3,1420.2 L116.5,1437.3 L126.7,1420.2" fill="none" stroke="#000" stroke-width="6.2" stroke-linejoin="miter" stroke-miterlimit="10" stroke-linecap="round"/><text x="35.8" y="1437.9" font-size="18.3" font-weight="bold" text-anchor="middle">Sensor</text><text x="36.0" y="1459.3" font-size="18.3" font-weight="bold" text-anchor="middle">layer</text><line x1="59.3" y1="1449.5" x2="79.0" y2="1449.5" stroke="#000" stroke-width="3"/><circle cx="79.0" cy="1449.5" r="7.4" fill="#000"/><path d="M57.5,1467 C70,1491.5 102,1491.5 115.5,1465.5" fill="none" stroke="#0b2a6b" stroke-width="3.3"/><polygon points="53.5,1461.3 61.8,1464.8 55.0,1470.8" fill="#0b2a6b"/><polygon points="118.9,1459.6 120.0,1469.0 111.5,1465.0" fill="#0b2a6b"/><line x1="83.0" y1="1502.0" x2="83.0" y2="1529.8" stroke="#000" stroke-width="3.5"/><circle cx="83.0" cy="1502.5" r="7.4" fill="#000"/><text x="84.0" y="1554.7" font-size="18.3" font-weight="bold" text-anchor="middle">Ecoflex substrate</text>
<rect x="497.8" y="1262.5" width="45.5" height="177.7" fill="#fbe5d6"/>
<rect x="543.3" y="1262.5" width="138.7" height="177.7" fill="#e2efda"/>
<rect x="499.7" y="1440.8" width="45.0" height="179.2" fill="#fbe5d6"/>
<rect x="544.7" y="1440.8" width="135.1" height="179.2" fill="#e2efda"/>
<line x1="237.2" y1="1284.1" x2="250.2" y2="1284.1" stroke="#000" stroke-width="2.2"/>
<text x="223.0" y="1292.3" font-size="18" fill="#1f6fe0" text-anchor="end">20</text>
<line x1="237.2" y1="1319.3" x2="250.2" y2="1319.3" stroke="#000" stroke-width="2.2"/>
<text x="223.0" y="1327.4" font-size="18" fill="#1f6fe0" text-anchor="end">15</text>
<line x1="237.2" y1="1355.3" x2="250.2" y2="1355.3" stroke="#000" stroke-width="2.2"/>
<text x="223.0" y="1363.2" font-size="18" fill="#1f6fe0" text-anchor="end">10</text>
<line x1="237.2" y1="1391.3" x2="250.2" y2="1391.3" stroke="#000" stroke-width="2.2"/>
<text x="223.0" y="1399.0" font-size="18" fill="#1f6fe0" text-anchor="end">5</text>
<line x1="237.2" y1="1427.3" x2="250.2" y2="1427.3" stroke="#000" stroke-width="2.2"/>
<text x="223.0" y="1434.8" font-size="18" fill="#1f6fe0" text-anchor="end">0</text>
<line x1="281.0" y1="1440.2" x2="281.0" y2="1428.2" stroke="#000" stroke-width="2.2"/>
<line x1="370.3" y1="1440.2" x2="370.3" y2="1428.2" stroke="#000" stroke-width="2.2"/>
<line x1="459.4" y1="1440.2" x2="459.4" y2="1428.2" stroke="#000" stroke-width="2.2"/>
<line x1="548.5" y1="1440.2" x2="548.5" y2="1428.2" stroke="#000" stroke-width="2.2"/>
<line x1="637.5" y1="1440.2" x2="637.5" y2="1428.2" stroke="#000" stroke-width="2.2"/>
<line x1="235.0" y1="1461.1" x2="248.0" y2="1461.1" stroke="#000" stroke-width="2.2"/>
<text x="222.5" y="1469.8" font-size="18" fill="#f04040" text-anchor="end">40</text>
<line x1="235.0" y1="1495.5" x2="248.0" y2="1495.5" stroke="#000" stroke-width="2.2"/>
<text x="222.5" y="1503.9" font-size="18" fill="#f04040" text-anchor="end">35</text>
<line x1="235.0" y1="1530.2" x2="248.0" y2="1530.2" stroke="#000" stroke-width="2.2"/>
<text x="222.5" y="1538.3" font-size="18" fill="#f04040" text-anchor="end">30</text>
<line x1="235.0" y1="1564.8" x2="248.0" y2="1564.8" stroke="#000" stroke-width="2.2"/>
<text x="222.5" y="1572.6" font-size="18" fill="#f04040" text-anchor="end">25</text>
<line x1="235.0" y1="1599.5" x2="248.0" y2="1599.5" stroke="#000" stroke-width="2.2"/>
<text x="222.5" y="1607.0" font-size="18" fill="#f04040" text-anchor="end">20</text>
<line x1="235.0" y1="1620.0" x2="235.0" y2="1607.3" stroke="#000" stroke-width="2.2"/>
<line x1="337.9" y1="1620.0" x2="337.9" y2="1607.3" stroke="#000" stroke-width="2.2"/>
<line x1="441.5" y1="1620.0" x2="441.5" y2="1607.3" stroke="#000" stroke-width="2.2"/>
<line x1="545.0" y1="1620.0" x2="545.0" y2="1607.3" stroke="#000" stroke-width="2.2"/>
<line x1="648.4" y1="1620.0" x2="648.4" y2="1607.3" stroke="#000" stroke-width="2.2"/>
<text x="235.0" y="1652.0" font-size="17.8" text-anchor="middle">0</text>
<text x="338.7" y="1652.0" font-size="17.8" text-anchor="middle">100</text>
<text x="442.3" y="1650.6" font-size="17.8" text-anchor="middle">200</text>
<text x="544.0" y="1652.5" font-size="17.8" text-anchor="middle">0</text>
<text x="649.4" y="1652.8" font-size="17.8" text-anchor="middle">100</text>
<line x1="497.8" y1="1262.5" x2="497.8" y2="1440.2" stroke="#c00000" stroke-width="2.0" stroke-dasharray="4 2.6"/>
<line x1="543.3" y1="1262.5" x2="543.3" y2="1440.2" stroke="#c00000" stroke-width="2.0" stroke-dasharray="4 2.6"/>
<line x1="499.7" y1="1440.8" x2="499.7" y2="1620.0" stroke="#c00000" stroke-width="2.0" stroke-dasharray="4 2.6"/>
<line x1="544.7" y1="1440.8" x2="544.7" y2="1620.0" stroke="#c00000" stroke-width="2.0" stroke-dasharray="4 2.6"/>
<polyline points="281.5,1426.8 290.5,1434.1 299.1,1362.4 308.1,1412.7 316.7,1423.8 325.7,1425.5 334.9,1425.5 343.8,1427.1 352.5,1355.3 361.4,1412.7 370.3,1419.5 379.3,1424.1 388.2,1427.1 397.1,1356.7 405.8,1425.2 414.7,1425.5 423.7,1427.6 432.9,1426.8 441.5,1369.7 450.5,1413.0 459.4,1426.0 468.3,1426.8 477.3,1427.6 485.9,1364.0 494.9,1413.0 503.8,1425.5" fill="none" stroke="#1f6fe0" stroke-width="3.0" stroke-linejoin="round"/>
<circle cx="281.5" cy="1426.8" r="5.7" fill="#1f6fe0"/>
<circle cx="290.5" cy="1434.1" r="5.7" fill="#1f6fe0"/>
<circle cx="299.1" cy="1362.4" r="5.7" fill="#1f6fe0"/>
<circle cx="308.1" cy="1412.7" r="5.7" fill="#1f6fe0"/>
<circle cx="316.7" cy="1423.8" r="5.7" fill="#1f6fe0"/>
<circle cx="325.7" cy="1425.5" r="5.7" fill="#1f6fe0"/>
<circle cx="334.9" cy="1425.5" r="5.7" fill="#1f6fe0"/>
<circle cx="343.8" cy="1427.1" r="5.7" fill="#1f6fe0"/>
<circle cx="352.5" cy="1355.3" r="5.7" fill="#1f6fe0"/>
<circle cx="361.4" cy="1412.7" r="5.7" fill="#1f6fe0"/>
<circle cx="370.3" cy="1419.5" r="5.7" fill="#1f6fe0"/>
<circle cx="379.3" cy="1424.1" r="5.7" fill="#1f6fe0"/>
<circle cx="388.2" cy="1427.1" r="5.7" fill="#1f6fe0"/>
<circle cx="397.1" cy="1356.7" r="5.7" fill="#1f6fe0"/>
<circle cx="405.8" cy="1425.2" r="5.7" fill="#1f6fe0"/>
<circle cx="414.7" cy="1425.5" r="5.7" fill="#1f6fe0"/>
<circle cx="423.7" cy="1427.6" r="5.7" fill="#1f6fe0"/>
<circle cx="432.9" cy="1426.8" r="5.7" fill="#1f6fe0"/>
<circle cx="441.5" cy="1369.7" r="5.7" fill="#1f6fe0"/>
<circle cx="450.5" cy="1413.0" r="5.7" fill="#1f6fe0"/>
<circle cx="459.4" cy="1426.0" r="5.7" fill="#1f6fe0"/>
<circle cx="468.3" cy="1426.8" r="5.7" fill="#1f6fe0"/>
<circle cx="477.3" cy="1427.6" r="5.7" fill="#1f6fe0"/>
<circle cx="485.9" cy="1364.0" r="5.7" fill="#1f6fe0"/>
<circle cx="494.9" cy="1413.0" r="5.7" fill="#1f6fe0"/>
<circle cx="503.8" cy="1425.5" r="5.7" fill="#1f6fe0"/>
<polyline points="547.9,1427.3 557.1,1427.9 566.1,1361.3 575.0,1416.2 583.9,1425.5 592.9,1425.5 601.8,1426.8 610.5,1355.3 619.4,1412.7 628.3,1423.3 637.5,1427.1 646.5,1428.4" fill="none" stroke="#1f6fe0" stroke-width="3.0" stroke-linejoin="round"/>
<circle cx="547.9" cy="1427.3" r="5.7" fill="#1f6fe0"/>
<circle cx="557.1" cy="1427.9" r="5.7" fill="#1f6fe0"/>
<circle cx="566.1" cy="1361.3" r="5.7" fill="#1f6fe0"/>
<circle cx="575.0" cy="1416.2" r="5.7" fill="#1f6fe0"/>
<circle cx="583.9" cy="1425.5" r="5.7" fill="#1f6fe0"/>
<circle cx="592.9" cy="1425.5" r="5.7" fill="#1f6fe0"/>
<circle cx="601.8" cy="1426.8" r="5.7" fill="#1f6fe0"/>
<circle cx="610.5" cy="1355.3" r="5.7" fill="#1f6fe0"/>
<circle cx="619.4" cy="1412.7" r="5.7" fill="#1f6fe0"/>
<circle cx="628.3" cy="1423.3" r="5.7" fill="#1f6fe0"/>
<circle cx="637.5" cy="1427.1" r="5.7" fill="#1f6fe0"/>
<circle cx="646.5" cy="1428.4" r="5.7" fill="#1f6fe0"/>
<polyline points="244.5,1561.0 255.3,1561.0 265.6,1527.5 276.1,1538.8 286.2,1553.2 296.7,1554.8 307.0,1556.7 317.6,1523.9 327.8,1539.1 337.9,1553.2 348.4,1555.1 358.7,1556.7 369.0,1520.4 379.3,1538.3 389.8,1552.9 400.1,1555.1 410.4,1556.7 420.7,1527.5 431.0,1539.1 441.5,1553.2 451.8,1555.1 462.1,1556.7 472.7,1527.5 483.0,1539.1 493.2,1553.4" fill="none" stroke="#f04040" stroke-width="2.6" stroke-linejoin="round" stroke-dasharray="2.4 1.8"/>
<line x1="255.3" y1="1561.0" x2="265.6" y2="1527.5" stroke="#f04040" stroke-width="2.8"/>
<line x1="307.0" y1="1556.7" x2="317.6" y2="1523.9" stroke="#f04040" stroke-width="2.8"/>
<line x1="358.7" y1="1556.7" x2="369.0" y2="1520.4" stroke="#f04040" stroke-width="2.8"/>
<line x1="410.4" y1="1556.7" x2="420.7" y2="1527.5" stroke="#f04040" stroke-width="2.8"/>
<line x1="462.1" y1="1556.7" x2="472.7" y2="1527.5" stroke="#f04040" stroke-width="2.8"/>
<circle cx="244.5" cy="1561.0" r="5.7" fill="#f04040"/>
<circle cx="255.3" cy="1561.0" r="5.7" fill="#f04040"/>
<circle cx="265.6" cy="1527.5" r="5.7" fill="#f04040"/>
<circle cx="276.1" cy="1538.8" r="5.7" fill="#f04040"/>
<circle cx="286.2" cy="1553.2" r="5.7" fill="#f04040"/>
<circle cx="296.7" cy="1554.8" r="5.7" fill="#f04040"/>
<circle cx="307.0" cy="1556.7" r="5.7" fill="#f04040"/>
<circle cx="317.6" cy="1523.9" r="5.7" fill="#f04040"/>
<circle cx="327.8" cy="1539.1" r="5.7" fill="#f04040"/>
<circle cx="337.9" cy="1553.2" r="5.7" fill="#f04040"/>
<circle cx="348.4" cy="1555.1" r="5.7" fill="#f04040"/>
<circle cx="358.7" cy="1556.7" r="5.7" fill="#f04040"/>
<circle cx="369.0" cy="1520.4" r="5.7" fill="#f04040"/>
<circle cx="379.3" cy="1538.3" r="5.7" fill="#f04040"/>
<circle cx="389.8" cy="1552.9" r="5.7" fill="#f04040"/>
<circle cx="400.1" cy="1555.1" r="5.7" fill="#f04040"/>
<circle cx="410.4" cy="1556.7" r="5.7" fill="#f04040"/>
<circle cx="420.7" cy="1527.5" r="5.7" fill="#f04040"/>
<circle cx="431.0" cy="1539.1" r="5.7" fill="#f04040"/>
<circle cx="441.5" cy="1553.2" r="5.7" fill="#f04040"/>
<circle cx="451.8" cy="1555.1" r="5.7" fill="#f04040"/>
<circle cx="462.1" cy="1556.7" r="5.7" fill="#f04040"/>
<circle cx="472.7" cy="1527.5" r="5.7" fill="#f04040"/>
<circle cx="483.0" cy="1539.1" r="5.7" fill="#f04040"/>
<circle cx="493.2" cy="1553.4" r="5.7" fill="#f04040"/>
<polyline points="544.7,1559.9 555.2,1559.9 565.5,1527.5 576.1,1533.1 586.4,1536.1 596.7,1555.1 606.9,1556.7 617.2,1523.9 627.8,1539.1 638.1,1553.2 648.4,1555.1 658.9,1556.7" fill="none" stroke="#f04040" stroke-width="2.6" stroke-linejoin="round" stroke-dasharray="2.4 1.8"/>
<line x1="555.2" y1="1559.9" x2="565.5" y2="1527.5" stroke="#f04040" stroke-width="2.8"/>
<line x1="606.9" y1="1556.7" x2="617.2" y2="1523.9" stroke="#f04040" stroke-width="2.8"/>
<circle cx="544.7" cy="1559.9" r="5.7" fill="#f04040"/>
<circle cx="555.2" cy="1559.9" r="5.7" fill="#f04040"/>
<circle cx="565.5" cy="1527.5" r="5.7" fill="#f04040"/>
<circle cx="576.1" cy="1533.1" r="5.7" fill="#f04040"/>
<circle cx="586.4" cy="1536.1" r="5.7" fill="#f04040"/>
<circle cx="596.7" cy="1555.1" r="5.7" fill="#f04040"/>
<circle cx="606.9" cy="1556.7" r="5.7" fill="#f04040"/>
<circle cx="617.2" cy="1523.9" r="5.7" fill="#f04040"/>
<circle cx="627.8" cy="1539.1" r="5.7" fill="#f04040"/>
<circle cx="638.1" cy="1553.2" r="5.7" fill="#f04040"/>
<circle cx="648.4" cy="1555.1" r="5.7" fill="#f04040"/>
<circle cx="658.9" cy="1556.7" r="5.7" fill="#f04040"/>
<rect x="235.0" y="1440.8" width="444.8" height="179.2" fill="none" stroke="#000" stroke-width="2.4"/>
<rect x="237.2" y="1262.5" width="444.8" height="177.7" fill="none" stroke="#000" stroke-width="2.4"/>
<line x1="233.7" y1="1440.5" x2="683.2" y2="1440.5" stroke="#000" stroke-width="3.2"/>
<text x="499.5" y="1255.7" font-size="18.3" font-weight="bold" font-style="italic" fill="#c00000" text-anchor="middle">Cut</text>
<text x="520.5" y="1293.6" font-size="18.3" font-weight="bold" font-style="italic" fill="#c00000" text-anchor="middle">1 day</text>
<text x="609.0" y="1293.6" font-size="18.3" font-weight="bold" font-style="italic" fill="#375623" text-anchor="middle">Self-healed</text>
<line x1="508.0" y1="1307.7" x2="533.0" y2="1307.7" stroke="#c00000" stroke-width="2.4"/>
<polygon points="498.6,1307.7 514.0,1300.5 514.0,1315.0" fill="#c00000"/>
<polygon points="543.0,1307.7 527.5,1300.5 527.5,1315.0" fill="#c00000"/>
<text transform="translate(193.3,1352.0) rotate(-90)" font-size="26.5" fill="#1f6fe0" text-anchor="middle">Strain (%)</text>
<text transform="translate(192.6,1534.3) rotate(-90)" font-size="26.5" fill="#f04040" text-anchor="middle">Temperature</text>
<text transform="translate(223.9,1566) rotate(-90)" font-size="26.5" fill="#f04040">(<tspan dx="1">°</tspan><tspan dx="15.5" font-size="25">C</tspan><tspan dx="-1.5">)</tspan></text>
<text x="451.3" y="1696.8" font-size="26.5" text-anchor="middle">Time (s)</text>
</g>
<g id="panel_f">
<text x="777.5" y="1215.0" font-size="26" text-anchor="middle">f</text>
<text x="1054.6" y="1212.3" font-size="22.5" font-weight="bold" text-anchor="middle">Damage sensor real-time sensing</text>
<text x="806.0" y="1261.9" font-size="18" text-anchor="end">10000</text>
<line x1="821.8" y1="1332.0" x2="835.8" y2="1332.0" stroke="#000" stroke-width="2.2"/>
<text x="806.0" y="1338.3" font-size="18" text-anchor="end">8000</text>
<line x1="821.8" y1="1408.0" x2="835.8" y2="1408.0" stroke="#000" stroke-width="2.2"/>
<text x="806.0" y="1414.3" font-size="18" text-anchor="end">6000</text>
<line x1="821.8" y1="1484.2" x2="835.8" y2="1484.2" stroke="#000" stroke-width="2.2"/>
<text x="806.0" y="1490.5" font-size="18" text-anchor="end">4000</text>
<line x1="821.8" y1="1560.2" x2="835.8" y2="1560.2" stroke="#000" stroke-width="2.2"/>
<text x="806.0" y="1566.5" font-size="18" text-anchor="end">2000</text>
<text x="806.0" y="1644.6" font-size="18" text-anchor="end">0</text>
<line x1="821.8" y1="1632.1" x2="821.8" y2="1627.1" stroke="#000" stroke-width="2.2"/>
<text x="821.8" y="1661.8" font-size="18" text-anchor="middle">0</text>
<line x1="906.5" y1="1632.1" x2="906.5" y2="1627.1" stroke="#000" stroke-width="2.2"/>
<text x="906.5" y="1661.8" font-size="18" text-anchor="middle">50</text>
<line x1="991.7" y1="1632.1" x2="991.7" y2="1627.1" stroke="#000" stroke-width="2.2"/>
<text x="991.7" y="1661.8" font-size="18" text-anchor="middle">100</text>
<line x1="1075.7" y1="1632.1" x2="1075.7" y2="1627.1" stroke="#000" stroke-width="2.2"/>
<text x="1075.7" y="1661.8" font-size="18" text-anchor="middle">150</text>
<line x1="1160.2" y1="1632.1" x2="1160.2" y2="1627.1" stroke="#000" stroke-width="2.2"/>
<text x="1160.2" y="1661.8" font-size="18" text-anchor="middle">200</text>
<line x1="1245.4" y1="1632.1" x2="1245.4" y2="1627.1" stroke="#000" stroke-width="2.2"/>
<text x="1245.4" y="1661.8" font-size="18" text-anchor="middle">250</text>
<line x1="821.8" y1="1256.8" x2="835.8" y2="1256.8" stroke="#000" stroke-width="2.2"/>
<rect x="821.8" y="1256.8" width="466.3" height="375.3" fill="none" stroke="#000" stroke-width="2.4"/>
<clipPath id="fc840"><rect x="840.8" y="1260.4" width="81.4" height="128"/></clipPath><g clip-path="url(#fc840)"><g filter="url(#fblur)"><rect x="838.8" y="1258.4" width="85.4" height="132.0" fill="url(#fbg)"/><rect x="838.8" y="1293.4" width="14.0" height="30.0" fill="#cdb492"/><rect x="838.8" y="1312.4" width="16.0" height="80.0" fill="url(#fdark)"/><rect x="906.8" y="1332.4" width="18.0" height="60.0" fill="#2a2d33"/><path d="M851.3,1263.5 Q881.5,1258.7 911.7,1263.5 Q917.7,1265.5 917.3,1273.0 L913.8,1327.8 L907.9,1390.9 L856.5,1390.9 L850.6,1327.8 L846.1,1273.0 Q845.6,1265.5 851.3,1263.5 Z" fill="url(#fbody)"/><path d="M852.0,1277.9 Q880.1,1272.8 907.9,1277.5 Q909.9,1278.4 909.6,1282.9 L908.4,1319.3 Q907.9,1323.3 904.0,1323.8 Q880.1,1327.5 856.0,1323.8 Q852.3,1323.3 851.7,1319.3 L850.3,1282.9 Q850.1,1278.6 852.0,1277.9 Z" fill="#23232f"/><rect x="854.4" y="1287.1" width="49.8" height="28.8" fill="url(#flcd)" rx="1.2"/><rect x="857.4" y="1289.2" width="9.4" height="2.4" fill="#6f86c6" rx="0.4" opacity="0.55"/><rect x="857.4" y="1292.4" width="9.4" height="2.5" fill="#6f86c6" rx="0.4" opacity="0.55"/><rect x="871.0" y="1289.9" width="4.9" height="3.9" fill="#6f86c6" rx="0.4" opacity="0.55"/><rect x="878.4" y="1289.2" width="4.5" height="5.6" fill="#6f86c6" rx="0.4" opacity="0.55"/><rect x="884.6" y="1290.2" width="3.9" height="3.6" fill="#6f86c6" rx="0.4" opacity="0.55"/><rect x="890.2" y="1288.8" width="6.7" height="2.5" fill="#6f86c6" rx="0.4" opacity="0.55"/><rect x="890.2" y="1292.1" width="6.7" height="2.5" fill="#6f86c6" rx="0.4" opacity="0.55"/><rect x="901.4" y="1288.5" width="1.4" height="7.0" fill="#6f86c6" rx="0.4" opacity="0.55"/><rect x="857.6" y="1308.1" width="2.8" height="2.5" fill="#6f86c6" rx="0.4" opacity="0.55"/><rect x="863.3" y="1308.1" width="7.7" height="2.2" fill="#6f86c6" rx="0.4" opacity="0.55"/><rect x="875.9" y="1307.4" width="7.0" height="2.9" fill="#6f86c6" rx="0.4" opacity="0.55"/><rect x="887.1" y="1308.1" width="2.8" height="2.2" fill="#6f86c6" rx="0.4" opacity="0.55"/><rect x="864.0" y="1317.7" width="33.0" height="3.4" fill="#c9c9d2" rx="1"/><rect x="864.9" y="1318.1" width="2.8" height="2.5" fill="#f4f4f8" rx="0.4"/><rect x="868.9" y="1318.1" width="2.8" height="2.5" fill="#f4f4f8" rx="0.4"/><rect x="872.9" y="1318.1" width="2.8" height="2.5" fill="#f4f4f8" rx="0.4"/><rect x="876.9" y="1318.1" width="2.8" height="2.5" fill="#f4f4f8" rx="0.4"/><rect x="880.9" y="1318.1" width="2.8" height="2.5" fill="#f4f4f8" rx="0.4"/><rect x="884.9" y="1318.1" width="2.8" height="2.5" fill="#f4f4f8" rx="0.4"/><rect x="888.9" y="1318.1" width="2.8" height="2.5" fill="#f4f4f8" rx="0.4"/><rect x="892.9" y="1318.1" width="2.8" height="2.5" fill="#f4f4f8" rx="0.4"/><path d="M858.3,1329.5 Q881.2,1333.4 904.2,1329.5 Q906.8,1329.5 906.5,1333.4 L904.2,1374.8 Q904.0,1378.0 901.2,1378.6 L863.3,1378.6 Q860.2,1378.0 859.6,1374.8 L856.5,1333.4 Q856.2,1329.7 858.3,1329.5 Z" fill="#22222c"/><rect x="860.7" y="1337.9" width="18.9" height="6.3" fill="#8e8e90" rx="1.5"/><rect x="882.9" y="1337.3" width="19.2" height="6.9" fill="#8e8e90" rx="1.5"/><rect x="861.9" y="1347.0" width="12.2" height="6.7" fill="#8e8e90" rx="1.5"/><rect x="889.2" y="1347.0" width="12.2" height="6.7" fill="#8e8e90" rx="1.5"/><rect x="863.0" y="1356.1" width="17.1" height="6.3" fill="#8e8e90" rx="1.5"/><rect x="883.2" y="1356.1" width="18.0" height="6.3" fill="#8e8e90" rx="1.5"/><circle cx="881.4" cy="1350.2" r="5.7" fill="#dcd21e"/><circle cx="881.4" cy="1350.2" r="2.9" fill="none" stroke="#b5ab12" stroke-width="0.9"/><rect x="864.9" y="1367.8" width="34.8" height="6.3" fill="#e0d9d6" rx="2.2"/></g></g><text x="863.3" y="1306.0" font-size="14" fill="#2b76a4" font-weight="bold" textLength="26" lengthAdjust="spacingAndGlyphs">1.00</text><text x="886.0" y="1284.0" font-size="4.4" font-weight="bold" font-style="italic" fill="#c4c4cc">Series 7</text><rect x="840.8" y="1260.4" width="81.4" height="128.0" fill="none" stroke="#000" stroke-width="1.2"/>
<clipPath id="fc922"><rect x="922.2" y="1260.4" width="81.4" height="128"/></clipPath><g clip-path="url(#fc922)"><g filter="url(#fblur)"><rect x="920.2" y="1258.4" width="85.4" height="132.0" fill="url(#fbg)"/><rect x="920.2" y="1293.4" width="14.0" height="30.0" fill="#cdb492"/><rect x="920.2" y="1312.4" width="16.0" height="80.0" fill="url(#fdark)"/><rect x="988.2" y="1332.4" width="18.0" height="60.0" fill="#2a2d33"/><path d="M935.5,1263.5 Q965.7,1258.7 995.9,1263.5 Q1001.9,1265.5 1001.5,1273.0 L998.0,1327.8 L992.1,1390.9 L940.7,1390.9 L934.8,1327.8 L930.3,1273.0 Q929.8,1265.5 935.5,1263.5 Z" fill="url(#fbody)"/><path d="M936.2,1277.9 Q964.3,1272.8 992.1,1277.5 Q994.1,1278.4 993.8,1282.9 L992.7,1319.3 Q992.1,1323.3 988.2,1323.8 Q964.3,1327.5 940.2,1323.8 Q936.5,1323.3 936.0,1319.3 L934.6,1282.9 Q934.3,1278.6 936.2,1277.9 Z" fill="#23232f"/><rect x="938.6" y="1287.1" width="49.8" height="28.8" fill="url(#flcd)" rx="1.2"/><rect x="941.6" y="1289.2" width="9.4" height="2.4" fill="#6f86c6" rx="0.4" opacity="0.55"/><rect x="941.6" y="1292.4" width="9.4" height="2.5" fill="#6f86c6" rx="0.4" opacity="0.55"/><rect x="955.2" y="1289.9" width="4.9" height="3.9" fill="#6f86c6" rx="0.4" opacity="0.55"/><rect x="962.6" y="1289.2" width="4.5" height="5.6" fill="#6f86c6" rx="0.4" opacity="0.55"/><rect x="968.8" y="1290.2" width="3.9" height="3.6" fill="#6f86c6" rx="0.4" opacity="0.55"/><rect x="974.4" y="1288.8" width="6.7" height="2.5" fill="#6f86c6" rx="0.4" opacity="0.55"/><rect x="974.4" y="1292.1" width="6.7" height="2.5" fill="#6f86c6" rx="0.4" opacity="0.55"/><rect x="985.6" y="1288.5" width="1.4" height="7.0" fill="#6f86c6" rx="0.4" opacity="0.55"/><rect x="941.8" y="1308.1" width="2.8" height="2.5" fill="#6f86c6" rx="0.4" opacity="0.55"/><rect x="947.5" y="1308.1" width="7.7" height="2.2" fill="#6f86c6" rx="0.4" opacity="0.55"/><rect x="960.1" y="1307.4" width="7.0" height="2.9" fill="#6f86c6" rx="0.4" opacity="0.55"/><rect x="971.3" y="1308.1" width="2.8" height="2.2" fill="#6f86c6" rx="0.4" opacity="0.55"/><rect x="948.2" y="1317.7" width="33.0" height="3.4" fill="#c9c9d2" rx="1"/><rect x="949.1" y="1318.1" width="2.8" height="2.5" fill="#f4f4f8" rx="0.4"/><rect x="953.1" y="1318.1" width="2.8" height="2.5" fill="#f4f4f8" rx="0.4"/><rect x="957.1" y="1318.1" width="2.8" height="2.5" fill="#f4f4f8" rx="0.4"/><rect x="961.1" y="1318.1" width="2.8" height="2.5" fill="#f4f4f8" rx="0.4"/><rect x="965.1" y="1318.1" width="2.8" height="2.5" fill="#f4f4f8" rx="0.4"/><rect x="969.1" y="1318.1" width="2.8" height="2.5" fill="#f4f4f8" rx="0.4"/><rect x="973.1" y="1318.1" width="2.8" height="2.5" fill="#f4f4f8" rx="0.4"/><rect x="977.1" y="1318.1" width="2.8" height="2.5" fill="#f4f4f8" rx="0.4"/><path d="M942.6,1329.5 Q965.4,1333.4 988.4,1329.5 Q991.0,1329.5 990.7,1333.4 L988.4,1374.8 Q988.2,1378.0 985.4,1378.6 L947.5,1378.6 Q944.4,1378.0 943.8,1374.8 L940.7,1333.4 Q940.4,1329.7 942.6,1329.5 Z" fill="#22222c"/><rect x="944.9" y="1337.9" width="18.9" height="6.3" fill="#8e8e90" rx="1.5"/><rect x="967.1" y="1337.3" width="19.2" height="6.9" fill="#8e8e90" rx="1.5"/><rect x="946.1" y="1347.0" width="12.2" height="6.7" fill="#8e8e90" rx="1.5"/><rect x="973.4" y="1347.0" width="12.2" height="6.7" fill="#8e8e90" rx="1.5"/><rect x="947.2" y="1356.1" width="17.1" height="6.3" fill="#8e8e90" rx="1.5"/><rect x="967.4" y="1356.1" width="18.0" height="6.3" fill="#8e8e90" rx="1.5"/><circle cx="965.6" cy="1350.2" r="5.7" fill="#dcd21e"/><circle cx="965.6" cy="1350.2" r="2.9" fill="none" stroke="#b5ab12" stroke-width="0.9"/><rect x="949.1" y="1367.8" width="34.8" height="6.3" fill="#e0d9d6" rx="2.2"/></g></g><text x="947.5" y="1306.0" font-size="14" fill="#2b76a4" font-weight="bold" textLength="26" lengthAdjust="spacingAndGlyphs">2.04</text><text x="970.2" y="1284.0" font-size="4.4" font-weight="bold" font-style="italic" fill="#c4c4cc">Series 7</text><rect x="922.2" y="1260.4" width="81.4" height="128.0" fill="none" stroke="#000" stroke-width="1.2"/>
<clipPath id="fc1003"><rect x="1003.6" y="1260.4" width="81.4" height="128"/></clipPath><g clip-path="url(#fc1003)"><g filter="url(#fblur)"><rect x="1001.6" y="1258.4" width="85.4" height="132.0" fill="url(#fbg)"/><rect x="1001.6" y="1293.4" width="14.0" height="30.0" fill="#cdb492"/><rect x="1001.6" y="1312.4" width="16.0" height="80.0" fill="url(#fdark)"/><rect x="1069.6" y="1332.4" width="18.0" height="60.0" fill="#2a2d33"/><path d="M1012.0,1260.0 Q1042.2,1255.2 1072.4,1260.0 Q1078.4,1261.9 1078.0,1269.5 L1074.5,1324.3 L1068.6,1387.4 L1017.2,1387.4 L1011.3,1324.3 L1006.8,1269.5 Q1006.3,1261.9 1012.0,1260.0 Z" fill="url(#fbody)"/><path d="M1012.7,1274.4 Q1040.8,1269.2 1068.6,1274.0 Q1070.5,1274.9 1070.3,1279.3 L1069.1,1315.8 Q1068.6,1319.8 1064.7,1320.3 Q1040.8,1324.0 1016.7,1320.3 Q1013.0,1319.8 1012.4,1315.8 L1011.0,1279.3 Q1010.8,1275.1 1012.7,1274.4 Z" fill="#23232f"/><rect x="1015.1" y="1283.6" width="49.8" height="28.8" fill="url(#flcd)" rx="1.2"/><rect x="1018.1" y="1285.7" width="9.4" height="2.4" fill="#6f86c6" rx="0.4" opacity="0.55"/><rect x="1018.1" y="1288.9" width="9.4" height="2.5" fill="#6f86c6" rx="0.4" opacity="0.55"/><rect x="1031.7" y="1286.4" width="4.9" height="3.9" fill="#6f86c6" rx="0.4" opacity="0.55"/><rect x="1039.1" y="1285.7" width="4.5" height="5.6" fill="#6f86c6" rx="0.4" opacity="0.55"/><rect x="1045.3" y="1286.6" width="3.9" height="3.6" fill="#6f86c6" rx="0.4" opacity="0.55"/><rect x="1050.9" y="1285.2" width="6.7" height="2.5" fill="#6f86c6" rx="0.4" opacity="0.55"/><rect x="1050.9" y="1288.6" width="6.7" height="2.5" fill="#6f86c6" rx="0.4" opacity="0.55"/><rect x="1062.1" y="1285.0" width="1.4" height="7.0" fill="#6f86c6" rx="0.4" opacity="0.55"/><rect x="1018.3" y="1304.6" width="2.8" height="2.5" fill="#6f86c6" rx="0.4" opacity="0.55"/><rect x="1024.0" y="1304.6" width="7.7" height="2.2" fill="#6f86c6" rx="0.4" opacity="0.55"/><rect x="1036.6" y="1303.9" width="7.0" height="2.9" fill="#6f86c6" rx="0.4" opacity="0.55"/><rect x="1047.8" y="1304.6" width="2.8" height="2.2" fill="#6f86c6" rx="0.4" opacity="0.55"/><rect x="1024.7" y="1314.2" width="33.0" height="3.4" fill="#c9c9d2" rx="1"/><rect x="1025.6" y="1314.6" width="2.8" height="2.5" fill="#f4f4f8" rx="0.4"/><rect x="1029.6" y="1314.6" width="2.8" height="2.5" fill="#f4f4f8" rx="0.4"/><rect x="1033.6" y="1314.6" width="2.8" height="2.5" fill="#f4f4f8" rx="0.4"/><rect x="1037.6" y="1314.6" width="2.8" height="2.5" fill="#f4f4f8" rx="0.4"/><rect x="1041.6" y="1314.6" width="2.8" height="2.5" fill="#f4f4f8" rx="0.4"/><rect x="1045.6" y="1314.6" width="2.8" height="2.5" fill="#f4f4f8" rx="0.4"/><rect x="1049.6" y="1314.6" width="2.8" height="2.5" fill="#f4f4f8" rx="0.4"/><rect x="1053.6" y="1314.6" width="2.8" height="2.5" fill="#f4f4f8" rx="0.4"/><path d="M1019.0,1325.9 Q1041.9,1329.9 1064.9,1325.9 Q1067.5,1325.9 1067.2,1329.9 L1064.9,1371.3 Q1064.7,1374.5 1061.8,1375.1 L1024.0,1375.1 Q1020.9,1374.5 1020.3,1371.3 L1017.2,1329.9 Q1016.9,1326.2 1019.0,1325.9 Z" fill="#22222c"/><rect x="1021.4" y="1334.4" width="18.9" height="6.3" fill="#8e8e90" rx="1.5"/><rect x="1043.6" y="1333.8" width="19.2" height="6.9" fill="#8e8e90" rx="1.5"/><rect x="1022.5" y="1343.5" width="12.2" height="6.7" fill="#8e8e90" rx="1.5"/><rect x="1049.9" y="1343.5" width="12.2" height="6.7" fill="#8e8e90" rx="1.5"/><rect x="1023.7" y="1352.6" width="17.1" height="6.3" fill="#8e8e90" rx="1.5"/><rect x="1043.9" y="1352.6" width="18.0" height="6.3" fill="#8e8e90" rx="1.5"/><circle cx="1042.1" cy="1346.7" r="5.7" fill="#dcd21e"/><circle cx="1042.1" cy="1346.7" r="2.9" fill="none" stroke="#b5ab12" stroke-width="0.9"/><rect x="1025.6" y="1364.3" width="34.8" height="6.3" fill="#e0d9d6" rx="2.2"/></g></g><text x="1024.0" y="1302.5" font-size="14" fill="#2b76a4" font-weight="bold" textLength="26" lengthAdjust="spacingAndGlyphs">4.02</text><text x="1046.7" y="1280.5" font-size="4.4" font-weight="bold" font-style="italic" fill="#c4c4cc">Series 7</text><rect x="1003.6" y="1260.4" width="81.4" height="128.0" fill="none" stroke="#000" stroke-width="1.2"/>
<rect x="820.6" y="1616.3" width="469.0" height="13.1" fill="#b078e0"/>
<rect x="900.2" y="1605.0" width="11.6" height="12.0" fill="#b078e0"/>
<circle cx="906.0" cy="1605.4" r="6.3" fill="#b078e0"/>
<circle cx="906.0" cy="1610.0" r="6.3" fill="#b078e0"/>
<line x1="1011.8" y1="1525.0" x2="1011.8" y2="1616.0" stroke="#b078e0" stroke-width="2.6"/>
<circle cx="1011.8" cy="1525.2" r="6.3" fill="#b078e0"/>
<circle cx="1011.8" cy="1545.3" r="6.3" fill="#b078e0"/>
<circle cx="1011.8" cy="1575.6" r="6.3" fill="#b078e0"/>
<circle cx="1011.8" cy="1596.6" r="6.3" fill="#b078e0"/>
<circle cx="1011.8" cy="1606.7" r="6.3" fill="#b078e0"/>
<circle cx="1011.8" cy="1611.0" r="6.3" fill="#b078e0"/>
<rect x="1005.8" y="1600.0" width="12.0" height="16.0" fill="#b078e0"/>
<line x1="1124.7" y1="1348.0" x2="1124.7" y2="1616.0" stroke="#b078e0" stroke-width="3.8"/>
<circle cx="1124.7" cy="1347.7" r="6.3" fill="#b078e0"/>
<circle cx="1124.7" cy="1358.0" r="6.3" fill="#b078e0"/>
<circle cx="1124.7" cy="1363.0" r="6.3" fill="#b078e0"/>
<circle cx="1124.7" cy="1368.0" r="6.3" fill="#b078e0"/>
<circle cx="1124.7" cy="1372.5" r="6.3" fill="#b078e0"/>
<circle cx="1124.7" cy="1451.8" r="6.3" fill="#b078e0"/>
<circle cx="1124.7" cy="1572.3" r="6.3" fill="#b078e0"/>
<circle cx="1124.7" cy="1595.9" r="6.3" fill="#b078e0"/>
<circle cx="1124.7" cy="1601.7" r="6.3" fill="#b078e0"/>
<circle cx="1124.7" cy="1608.0" r="6.3" fill="#b078e0"/>
<rect x="1118.7" y="1598.0" width="12.0" height="18.0" fill="#b078e0"/>
<line x1="1255.3" y1="1349.0" x2="1255.3" y2="1616.0" stroke="#b078e0" stroke-width="3.4"/>
<circle cx="1255.3" cy="1349.5" r="6.3" fill="#b078e0"/>
<circle cx="1255.3" cy="1361.0" r="6.3" fill="#b078e0"/>
<circle cx="1255.3" cy="1415.5" r="6.3" fill="#b078e0"/>
<circle cx="1255.3" cy="1465.8" r="6.3" fill="#b078e0"/>
<circle cx="1255.3" cy="1471.3" r="6.3" fill="#b078e0"/>
<circle cx="1255.3" cy="1492.6" r="6.3" fill="#b078e0"/>
<circle cx="1255.3" cy="1499.6" r="6.3" fill="#b078e0"/>
<circle cx="1255.3" cy="1545.3" r="6.3" fill="#b078e0"/>
<circle cx="1255.3" cy="1576.6" r="6.3" fill="#b078e0"/>
<circle cx="1255.3" cy="1597.4" r="6.3" fill="#b078e0"/>
<circle cx="1255.3" cy="1605.4" r="6.3" fill="#b078e0"/>
<circle cx="1255.3" cy="1610.0" r="6.3" fill="#b078e0"/>
<rect x="1249.3" y="1600.0" width="12.0" height="16.0" fill="#b078e0"/>
<text x="906.0" y="1544.2" font-size="18.2" font-weight="bold" fill="#595959" text-anchor="middle">1 N</text>
<rect x="904.3" y="1554.8" width="3.4" height="20.3" fill="#595959"/><polygon points="898.6,1574.6 913.4,1574.6 906.0,1588.6" fill="#595959"/>
<text x="1010.5" y="1466.0" font-size="18.2" font-weight="bold" fill="#b078e0" text-anchor="middle">2 N</text>
<rect x="1009.1" y="1477.0" width="3.4" height="19.9" fill="#b078e0"/><polygon points="1003.4,1496.4 1018.2,1496.4 1010.8,1510.7" fill="#b078e0"/>
<text x="1124.7" y="1287.7" font-size="18.2" font-weight="bold" fill="#7030a0" text-anchor="middle">4 N</text>
<rect x="1122.6" y="1300.0" width="4.2" height="19.8" fill="#7030a0"/><polygon points="1117.1,1319.3 1132.3,1319.3 1124.7,1333.8" fill="#7030a0"/>
<text x="1254.0" y="1286.6" font-size="18.2" font-weight="bold" fill="#7030a0" text-anchor="middle">4 N</text>
<rect x="1251.9" y="1300.0" width="4.2" height="19.8" fill="#7030a0"/><polygon points="1246.4,1319.3 1261.6,1319.3 1254.0,1333.8" fill="#7030a0"/>
<text transform="translate(741.5,1441.5) rotate(-90)" font-size="26.5" text-anchor="middle">Resistance <tspan dx="7.4">(kΩ)</tspan></text>
<text x="1054.9" y="1703.2" font-size="26.5" text-anchor="middle">Time (s)</text>
</g>
<g id="panel_g">
<text x="1390.0" y="1206.0" font-size="26" text-anchor="middle">g</text>
<text x="1683.9" y="1196.3" font-size="22.36" font-weight="bold" text-anchor="middle">Actuation of soft gripper and</text>
<text x="1683.9" y="1223.3" font-size="22.36" font-weight="bold" text-anchor="middle">actuation sensing using flexion sensor</text>
<text x="1435.0" y="1627.3" font-size="18" fill="#595959" text-anchor="end">0</text>
<line x1="1450.0" y1="1579.6" x2="1464.0" y2="1579.6" stroke="#000" stroke-width="2.2"/>
<text x="1435.0" y="1585.8" font-size="18" fill="#595959" text-anchor="end">10</text>
<line x1="1450.0" y1="1537.9" x2="1464.0" y2="1537.9" stroke="#000" stroke-width="2.2"/>
<text x="1435.0" y="1544.2" font-size="18" fill="#595959" text-anchor="end">20</text>
<line x1="1450.0" y1="1496.2" x2="1464.0" y2="1496.2" stroke="#000" stroke-width="2.2"/>
<text x="1435.0" y="1502.7" font-size="18" fill="#595959" text-anchor="end">30</text>
<line x1="1450.0" y1="1454.5" x2="1464.0" y2="1454.5" stroke="#000" stroke-width="2.2"/>
<text x="1435.0" y="1461.1" font-size="18" fill="#595959" text-anchor="end">40</text>
<line x1="1450.0" y1="1412.8" x2="1464.0" y2="1412.8" stroke="#000" stroke-width="2.2"/>
<text x="1435.0" y="1419.6" font-size="18" fill="#595959" text-anchor="end">50</text>
<line x1="1450.0" y1="1371.1" x2="1464.0" y2="1371.1" stroke="#000" stroke-width="2.2"/>
<text x="1435.0" y="1378.0" font-size="18" fill="#595959" text-anchor="end">60</text>
<line x1="1450.0" y1="1329.4" x2="1464.0" y2="1329.4" stroke="#000" stroke-width="2.2"/>
<text x="1435.0" y="1336.5" font-size="18" fill="#595959" text-anchor="end">70</text>
<line x1="1450.0" y1="1287.7" x2="1464.0" y2="1287.7" stroke="#000" stroke-width="2.2"/>
<text x="1435.0" y="1294.9" font-size="18" fill="#595959" text-anchor="end">80</text>
<text x="1435.0" y="1253.4" font-size="18" fill="#595959" text-anchor="end">90</text>
<text x="1450.0" y="1651.5" font-size="18" text-anchor="middle">0</text>
<line x1="1504.9" y1="1621.3" x2="1504.9" y2="1607.8" stroke="#000" stroke-width="2.2"/>
<text x="1504.9" y="1651.5" font-size="18" text-anchor="middle">20</text>
<line x1="1559.8" y1="1621.3" x2="1559.8" y2="1607.8" stroke="#000" stroke-width="2.2"/>
<text x="1559.8" y="1651.5" font-size="18" text-anchor="middle">40</text>
<line x1="1614.6" y1="1621.3" x2="1614.6" y2="1607.8" stroke="#000" stroke-width="2.2"/>
<text x="1614.6" y="1651.5" font-size="18" text-anchor="middle">60</text>
<line x1="1669.5" y1="1621.3" x2="1669.5" y2="1607.8" stroke="#000" stroke-width="2.2"/>
<text x="1669.5" y="1651.5" font-size="18" text-anchor="middle">80</text>
<line x1="1724.4" y1="1621.3" x2="1724.4" y2="1607.8" stroke="#000" stroke-width="2.2"/>
<text x="1724.4" y="1651.5" font-size="18" text-anchor="middle">100</text>
<line x1="1779.2" y1="1621.3" x2="1779.2" y2="1607.8" stroke="#000" stroke-width="2.2"/>
<text x="1779.2" y="1651.5" font-size="18" text-anchor="middle">120</text>
<line x1="1834.1" y1="1621.3" x2="1834.1" y2="1607.8" stroke="#000" stroke-width="2.2"/>
<text x="1834.1" y="1651.5" font-size="18" text-anchor="middle">140</text>
<line x1="1889.0" y1="1621.3" x2="1889.0" y2="1607.8" stroke="#000" stroke-width="2.2"/>
<text x="1889.0" y="1651.5" font-size="18" text-anchor="middle">160</text>
<line x1="1916.8" y1="1590.0" x2="1902.8" y2="1590.0" stroke="#ff0000" stroke-width="2.2"/>
<text x="1931.5" y="1596.3" font-size="18" fill="#ff3c3c">0.0</text>
<line x1="1916.8" y1="1527.4" x2="1902.8" y2="1527.4" stroke="#ff0000" stroke-width="2.2"/>
<text x="1931.5" y="1533.7" font-size="18" fill="#ff3c3c">0.2</text>
<line x1="1916.8" y1="1464.8" x2="1902.8" y2="1464.8" stroke="#ff0000" stroke-width="2.2"/>
<text x="1931.5" y="1471.1" font-size="18" fill="#ff3c3c">0.4</text>
<line x1="1916.8" y1="1402.2" x2="1902.8" y2="1402.2" stroke="#ff0000" stroke-width="2.2"/>
<text x="1931.5" y="1408.5" font-size="18" fill="#ff3c3c">0.6</text>
<line x1="1916.8" y1="1339.6" x2="1902.8" y2="1339.6" stroke="#ff0000" stroke-width="2.2"/>
<text x="1931.5" y="1345.9" font-size="18" fill="#ff3c3c">0.8</text>
<line x1="1916.8" y1="1277.0" x2="1902.8" y2="1277.0" stroke="#ff0000" stroke-width="2.2"/>
<text x="1931.5" y="1283.3" font-size="18" fill="#ff3c3c">1.0</text>
<circle cx="1477.4" cy="1608.8" r="6.3" fill="#4a4a4a"/>
<circle cx="1491.2" cy="1600.5" r="6.3" fill="#4a4a4a"/>
<circle cx="1518.6" cy="1592.1" r="6.3" fill="#4a4a4a"/>
<circle cx="1546.0" cy="1571.3" r="6.3" fill="#4a4a4a"/>
<circle cx="1559.8" cy="1562.9" r="6.3" fill="#4a4a4a"/>
<circle cx="1573.5" cy="1550.4" r="6.3" fill="#4a4a4a"/>
<circle cx="1587.2" cy="1525.4" r="6.3" fill="#4a4a4a"/>
<circle cx="1614.6" cy="1500.4" r="6.3" fill="#4a4a4a"/>
<circle cx="1628.3" cy="1481.6" r="6.3" fill="#4a4a4a"/>
<circle cx="1655.8" cy="1462.8" r="6.3" fill="#4a4a4a"/>
<circle cx="1669.5" cy="1450.3" r="6.3" fill="#4a4a4a"/>
<circle cx="1696.9" cy="1433.7" r="6.3" fill="#4a4a4a"/>
<circle cx="1724.4" cy="1408.6" r="6.3" fill="#4a4a4a"/>
<circle cx="1765.5" cy="1383.6" r="6.3" fill="#4a4a4a"/>
<circle cx="1779.2" cy="1362.8" r="6.3" fill="#4a4a4a"/>
<circle cx="1806.7" cy="1346.1" r="6.3" fill="#4a4a4a"/>
<circle cx="1834.1" cy="1321.1" r="6.3" fill="#4a4a4a"/>
<circle cx="1861.6" cy="1308.5" r="6.3" fill="#4a4a4a"/>
<circle cx="1875.3" cy="1283.5" r="6.3" fill="#4a4a4a"/>
<circle cx="1477.4" cy="1277.0" r="6.3" fill="#f04040"/>
<circle cx="1491.2" cy="1302.0" r="6.3" fill="#f04040"/>
<circle cx="1518.6" cy="1334.9" r="6.3" fill="#f04040"/>
<circle cx="1559.8" cy="1378.7" r="6.3" fill="#f04040"/>
<circle cx="1614.6" cy="1441.3" r="6.3" fill="#f04040"/>
<circle cx="1696.9" cy="1518.0" r="6.3" fill="#f04040"/>
<circle cx="1765.5" cy="1562.8" r="6.3" fill="#f04040"/>
<circle cx="1834.1" cy="1590.0" r="6.3" fill="#f04040"/>
<path d="M1916.8,1246 H1450 V1621.3 H1916.8" fill="none" stroke="#000" stroke-width="2.4" stroke-linejoin="miter"/>
<line x1="1450.0" y1="1246.0" x2="1464.0" y2="1246.0" stroke="#000" stroke-width="2.2"/>
<line x1="1916.8" y1="1244.8" x2="1916.8" y2="1622.5" stroke="#ff0000" stroke-width="2.4"/>
<text transform="translate(1397.0,1435.5) rotate(-90)" font-size="26.5" fill="#595959" text-anchor="middle">Bending angle (°)</text>
<text transform="translate(1987.5,1431.0) rotate(-90)" font-size="26.5" fill="#f04040" text-anchor="middle">R/R<tspan font-size="17" dy="6">0</tspan></text>
<text x="1683.0" y="1692.0" font-size="26.5" text-anchor="middle">Overpressure (kPa)</text>
</g>
</svg>
</body></html>
